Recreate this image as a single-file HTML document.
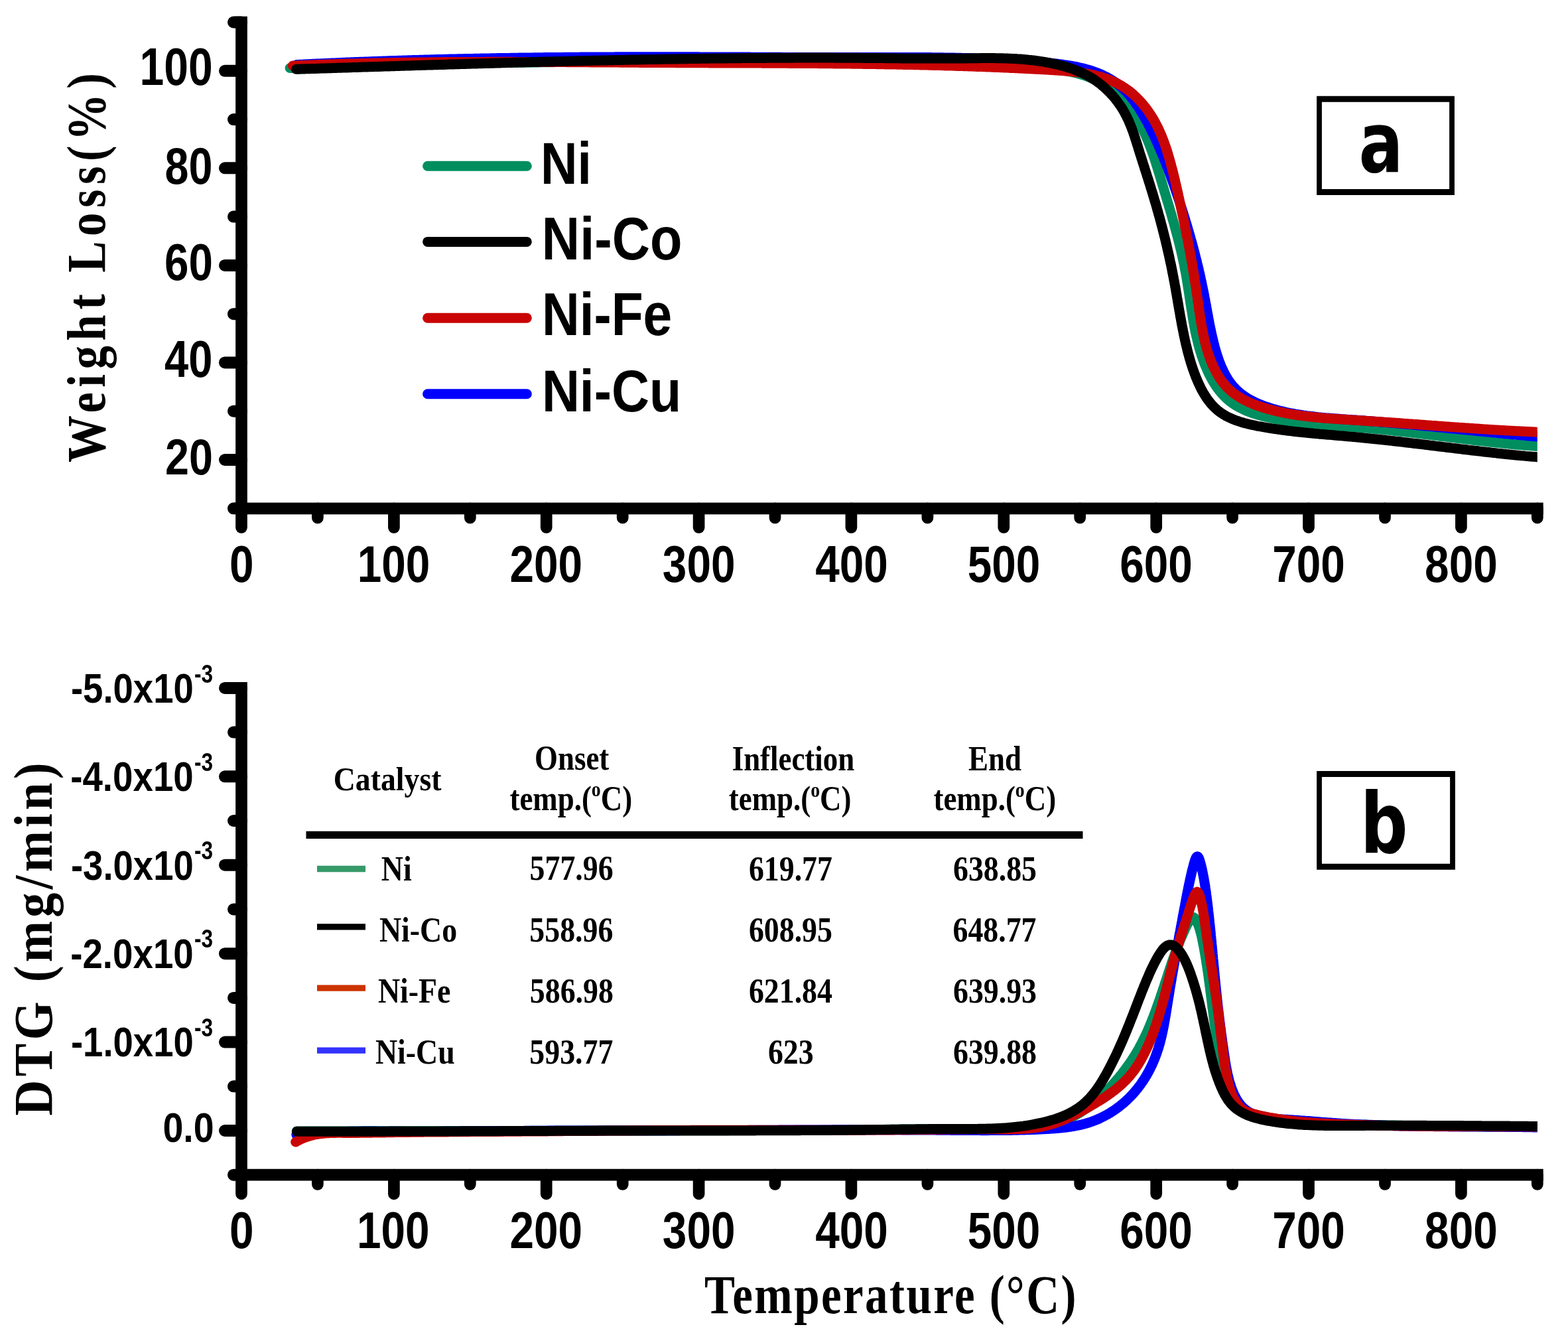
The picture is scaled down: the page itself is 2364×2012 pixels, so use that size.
<!DOCTYPE html>
<html><head><meta charset="utf-8"><title>TGA and DTG curves</title>
<style>html,body{margin:0;padding:0;background:#fff;overflow:hidden}svg{display:block}</style>
</head><body>
<svg xmlns="http://www.w3.org/2000/svg" width="2364" height="2012" viewBox="0 0 2364 2012">
<defs>
<clipPath id="ca"><rect x="300" y="0" width="2017.8" height="900"/></clipPath>
<clipPath id="cb"><rect x="300" y="1000" width="2017.8" height="900"/></clipPath>
</defs>
<rect width="2364" height="2012" fill="#fff"/>
<line x1="364.0" y1="33.5" x2="364.0" y2="766.3" stroke="#000" stroke-width="17.7" stroke-linecap="square"/>
<line x1="364.0" y1="766.3" x2="2317.8" y2="766.3" stroke="#000" stroke-width="17.8" stroke-linecap="square"/>
<line x1="364.0" y1="106.8" x2="339" y2="106.8" stroke="#000" stroke-width="18" stroke-linecap="round"/>
<line x1="364.0" y1="253.3" x2="339" y2="253.3" stroke="#000" stroke-width="18" stroke-linecap="round"/>
<line x1="364.0" y1="399.9" x2="339" y2="399.9" stroke="#000" stroke-width="18" stroke-linecap="round"/>
<line x1="364.0" y1="546.4" x2="339" y2="546.4" stroke="#000" stroke-width="18" stroke-linecap="round"/>
<line x1="364.0" y1="693.0" x2="339" y2="693.0" stroke="#000" stroke-width="18" stroke-linecap="round"/>
<line x1="364.0" y1="33.5" x2="352" y2="33.5" stroke="#000" stroke-width="18" stroke-linecap="round"/>
<line x1="364.0" y1="180.1" x2="352" y2="180.1" stroke="#000" stroke-width="18" stroke-linecap="round"/>
<line x1="364.0" y1="326.6" x2="352" y2="326.6" stroke="#000" stroke-width="18" stroke-linecap="round"/>
<line x1="364.0" y1="473.2" x2="352" y2="473.2" stroke="#000" stroke-width="18" stroke-linecap="round"/>
<line x1="364.0" y1="619.7" x2="352" y2="619.7" stroke="#000" stroke-width="18" stroke-linecap="round"/>
<line x1="364.0" y1="766.3" x2="352" y2="766.3" stroke="#000" stroke-width="18" stroke-linecap="round"/>
<line x1="364.0" y1="766.3" x2="364.0" y2="794.9" stroke="#000" stroke-width="17.7" stroke-linecap="round"/>
<line x1="593.9" y1="766.3" x2="593.9" y2="794.9" stroke="#000" stroke-width="17.7" stroke-linecap="round"/>
<line x1="823.7" y1="766.3" x2="823.7" y2="794.9" stroke="#000" stroke-width="17.7" stroke-linecap="round"/>
<line x1="1053.6" y1="766.3" x2="1053.6" y2="794.9" stroke="#000" stroke-width="17.7" stroke-linecap="round"/>
<line x1="1283.4" y1="766.3" x2="1283.4" y2="794.9" stroke="#000" stroke-width="17.7" stroke-linecap="round"/>
<line x1="1513.3" y1="766.3" x2="1513.3" y2="794.9" stroke="#000" stroke-width="17.7" stroke-linecap="round"/>
<line x1="1743.2" y1="766.3" x2="1743.2" y2="794.9" stroke="#000" stroke-width="17.7" stroke-linecap="round"/>
<line x1="1973.0" y1="766.3" x2="1973.0" y2="794.9" stroke="#000" stroke-width="17.7" stroke-linecap="round"/>
<line x1="2202.9" y1="766.3" x2="2202.9" y2="794.9" stroke="#000" stroke-width="17.7" stroke-linecap="round"/>
<line x1="478.9" y1="766.3" x2="478.9" y2="780.5" stroke="#000" stroke-width="17.7" stroke-linecap="round"/>
<line x1="708.8" y1="766.3" x2="708.8" y2="780.5" stroke="#000" stroke-width="17.7" stroke-linecap="round"/>
<line x1="938.7" y1="766.3" x2="938.7" y2="780.5" stroke="#000" stroke-width="17.7" stroke-linecap="round"/>
<line x1="1168.5" y1="766.3" x2="1168.5" y2="780.5" stroke="#000" stroke-width="17.7" stroke-linecap="round"/>
<line x1="1398.4" y1="766.3" x2="1398.4" y2="780.5" stroke="#000" stroke-width="17.7" stroke-linecap="round"/>
<line x1="1628.2" y1="766.3" x2="1628.2" y2="780.5" stroke="#000" stroke-width="17.7" stroke-linecap="round"/>
<line x1="1858.1" y1="766.3" x2="1858.1" y2="780.5" stroke="#000" stroke-width="17.7" stroke-linecap="round"/>
<line x1="2088.0" y1="766.3" x2="2088.0" y2="780.5" stroke="#000" stroke-width="17.7" stroke-linecap="round"/>
<line x1="2317.8" y1="766.3" x2="2317.8" y2="780.5" stroke="#000" stroke-width="17.7" stroke-linecap="round"/>
<line x1="364.0" y1="1036.9" x2="364.0" y2="1770.7" stroke="#000" stroke-width="17.7" stroke-linecap="square"/>
<line x1="364.0" y1="1770.7" x2="2317.8" y2="1770.7" stroke="#000" stroke-width="17.8" stroke-linecap="square"/>
<line x1="364.0" y1="1036.9" x2="339" y2="1036.9" stroke="#000" stroke-width="18" stroke-linecap="round"/>
<line x1="364.0" y1="1170.3" x2="339" y2="1170.3" stroke="#000" stroke-width="18" stroke-linecap="round"/>
<line x1="364.0" y1="1303.7" x2="339" y2="1303.7" stroke="#000" stroke-width="18" stroke-linecap="round"/>
<line x1="364.0" y1="1437.2" x2="339" y2="1437.2" stroke="#000" stroke-width="18" stroke-linecap="round"/>
<line x1="364.0" y1="1570.6" x2="339" y2="1570.6" stroke="#000" stroke-width="18" stroke-linecap="round"/>
<line x1="364.0" y1="1704.0" x2="339" y2="1704.0" stroke="#000" stroke-width="18" stroke-linecap="round"/>
<line x1="364.0" y1="1103.6" x2="352" y2="1103.6" stroke="#000" stroke-width="18" stroke-linecap="round"/>
<line x1="364.0" y1="1237.0" x2="352" y2="1237.0" stroke="#000" stroke-width="18" stroke-linecap="round"/>
<line x1="364.0" y1="1370.5" x2="352" y2="1370.5" stroke="#000" stroke-width="18" stroke-linecap="round"/>
<line x1="364.0" y1="1503.9" x2="352" y2="1503.9" stroke="#000" stroke-width="18" stroke-linecap="round"/>
<line x1="364.0" y1="1637.3" x2="352" y2="1637.3" stroke="#000" stroke-width="18" stroke-linecap="round"/>
<line x1="364.0" y1="1770.7" x2="352" y2="1770.7" stroke="#000" stroke-width="18" stroke-linecap="round"/>
<line x1="364.0" y1="1770.7" x2="364.0" y2="1799.3" stroke="#000" stroke-width="17.7" stroke-linecap="round"/>
<line x1="593.9" y1="1770.7" x2="593.9" y2="1799.3" stroke="#000" stroke-width="17.7" stroke-linecap="round"/>
<line x1="823.7" y1="1770.7" x2="823.7" y2="1799.3" stroke="#000" stroke-width="17.7" stroke-linecap="round"/>
<line x1="1053.6" y1="1770.7" x2="1053.6" y2="1799.3" stroke="#000" stroke-width="17.7" stroke-linecap="round"/>
<line x1="1283.4" y1="1770.7" x2="1283.4" y2="1799.3" stroke="#000" stroke-width="17.7" stroke-linecap="round"/>
<line x1="1513.3" y1="1770.7" x2="1513.3" y2="1799.3" stroke="#000" stroke-width="17.7" stroke-linecap="round"/>
<line x1="1743.2" y1="1770.7" x2="1743.2" y2="1799.3" stroke="#000" stroke-width="17.7" stroke-linecap="round"/>
<line x1="1973.0" y1="1770.7" x2="1973.0" y2="1799.3" stroke="#000" stroke-width="17.7" stroke-linecap="round"/>
<line x1="2202.9" y1="1770.7" x2="2202.9" y2="1799.3" stroke="#000" stroke-width="17.7" stroke-linecap="round"/>
<line x1="478.9" y1="1770.7" x2="478.9" y2="1784.9" stroke="#000" stroke-width="17.7" stroke-linecap="round"/>
<line x1="708.8" y1="1770.7" x2="708.8" y2="1784.9" stroke="#000" stroke-width="17.7" stroke-linecap="round"/>
<line x1="938.7" y1="1770.7" x2="938.7" y2="1784.9" stroke="#000" stroke-width="17.7" stroke-linecap="round"/>
<line x1="1168.5" y1="1770.7" x2="1168.5" y2="1784.9" stroke="#000" stroke-width="17.7" stroke-linecap="round"/>
<line x1="1398.4" y1="1770.7" x2="1398.4" y2="1784.9" stroke="#000" stroke-width="17.7" stroke-linecap="round"/>
<line x1="1628.2" y1="1770.7" x2="1628.2" y2="1784.9" stroke="#000" stroke-width="17.7" stroke-linecap="round"/>
<line x1="1858.1" y1="1770.7" x2="1858.1" y2="1784.9" stroke="#000" stroke-width="17.7" stroke-linecap="round"/>
<line x1="2088.0" y1="1770.7" x2="2088.0" y2="1784.9" stroke="#000" stroke-width="17.7" stroke-linecap="round"/>
<line x1="2317.8" y1="1770.7" x2="2317.8" y2="1784.9" stroke="#000" stroke-width="17.7" stroke-linecap="round"/>
<path d="M1985.1,144.8 H2192.9 V294.0 H1985.1 Z M1992.9,153.8 V285.0 H2185.1 V153.8 Z" fill="#000" fill-rule="evenodd"/>
<path d="M1985.1,1161.9 H2193.9 V1310.8 H1985.1 Z M1992.9,1170.9 V1301.8 H2186.1 V1170.9 Z" fill="#000" fill-rule="evenodd"/>
<line x1="644.6" y1="250.2" x2="794.3" y2="250.2" stroke="#008e5f" stroke-width="15" stroke-linecap="round"/>
<line x1="644.6" y1="364.4" x2="794.3" y2="364.4" stroke="#000000" stroke-width="15" stroke-linecap="round"/>
<line x1="644.6" y1="479.2" x2="794.3" y2="479.2" stroke="#c90404" stroke-width="15" stroke-linecap="round"/>
<line x1="644.6" y1="593.7" x2="794.3" y2="593.7" stroke="#0000ff" stroke-width="15" stroke-linecap="round"/>
<line x1="461.5" y1="1258.3" x2="1632.5" y2="1258.3" stroke="#000" stroke-width="11.3"/>
<line x1="478" y1="1309.5" x2="551" y2="1309.5" stroke="#359968" stroke-width="9.3"/>
<line x1="478" y1="1396.8" x2="551" y2="1396.8" stroke="#000000" stroke-width="9.3"/>
<line x1="478" y1="1489.2" x2="551" y2="1489.2" stroke="#cc3300" stroke-width="9.3"/>
<line x1="478" y1="1583.1" x2="551" y2="1583.1" stroke="#3333ff" stroke-width="9.3"/>
<text transform="translate(210.49,128.47) scale(0.8282,1)" font-family="'Liberation Sans', Arial, sans-serif" font-weight="bold" font-size="79.68">100</text>
<text transform="translate(248.54,276.50) scale(0.8363,1)" font-family="'Liberation Sans', Arial, sans-serif" font-weight="bold" font-size="77.36">80</text>
<text transform="translate(247.99,422.49) scale(0.8341,1)" font-family="'Liberation Sans', Arial, sans-serif" font-weight="bold" font-size="78.52">60</text>
<text transform="translate(248.00,567.99) scale(0.8378,1)" font-family="'Liberation Sans', Arial, sans-serif" font-weight="bold" font-size="77.70">40</text>
<text transform="translate(249.04,714.52) scale(0.8473,1)" font-family="'Liberation Sans', Arial, sans-serif" font-weight="bold" font-size="76.34">20</text>
<text transform="translate(346.00,877.02) scale(0.8408,1)" font-family="'Liberation Sans', Arial, sans-serif" font-weight="bold" font-size="78.14">0</text>
<text transform="translate(346.00,1880.82) scale(0.8408,1)" font-family="'Liberation Sans', Arial, sans-serif" font-weight="bold" font-size="78.14">0</text>
<text transform="translate(538.75,877.02) scale(0.8408,1)" font-family="'Liberation Sans', Arial, sans-serif" font-weight="bold" font-size="78.14">100</text>
<text transform="translate(537.95,1880.82) scale(0.8408,1)" font-family="'Liberation Sans', Arial, sans-serif" font-weight="bold" font-size="78.14">100</text>
<text transform="translate(768.40,877.02) scale(0.8408,1)" font-family="'Liberation Sans', Arial, sans-serif" font-weight="bold" font-size="78.14">200</text>
<text transform="translate(768.40,1880.82) scale(0.8408,1)" font-family="'Liberation Sans', Arial, sans-serif" font-weight="bold" font-size="78.14">200</text>
<text transform="translate(998.85,877.02) scale(0.8408,1)" font-family="'Liberation Sans', Arial, sans-serif" font-weight="bold" font-size="78.14">300</text>
<text transform="translate(998.85,1880.82) scale(0.8408,1)" font-family="'Liberation Sans', Arial, sans-serif" font-weight="bold" font-size="78.14">300</text>
<text transform="translate(1229.30,877.02) scale(0.8408,1)" font-family="'Liberation Sans', Arial, sans-serif" font-weight="bold" font-size="78.14">400</text>
<text transform="translate(1229.30,1880.82) scale(0.8408,1)" font-family="'Liberation Sans', Arial, sans-serif" font-weight="bold" font-size="78.14">400</text>
<text transform="translate(1458.75,877.02) scale(0.8408,1)" font-family="'Liberation Sans', Arial, sans-serif" font-weight="bold" font-size="78.14">500</text>
<text transform="translate(1458.75,1880.82) scale(0.8408,1)" font-family="'Liberation Sans', Arial, sans-serif" font-weight="bold" font-size="78.14">500</text>
<text transform="translate(1688.20,877.02) scale(0.8408,1)" font-family="'Liberation Sans', Arial, sans-serif" font-weight="bold" font-size="78.14">600</text>
<text transform="translate(1688.20,1880.82) scale(0.8408,1)" font-family="'Liberation Sans', Arial, sans-serif" font-weight="bold" font-size="78.14">600</text>
<text transform="translate(1918.15,877.02) scale(0.8408,1)" font-family="'Liberation Sans', Arial, sans-serif" font-weight="bold" font-size="78.14">700</text>
<text transform="translate(1918.15,1880.82) scale(0.8408,1)" font-family="'Liberation Sans', Arial, sans-serif" font-weight="bold" font-size="78.14">700</text>
<text transform="translate(2148.10,877.02) scale(0.8408,1)" font-family="'Liberation Sans', Arial, sans-serif" font-weight="bold" font-size="78.14">800</text>
<text transform="translate(2148.10,1880.82) scale(0.8408,1)" font-family="'Liberation Sans', Arial, sans-serif" font-weight="bold" font-size="78.14">800</text>
<text transform="translate(815.03,276.51) scale(0.8730,1)" font-family="'Liberation Sans', Arial, sans-serif" font-weight="bold" font-size="88.14">Ni</text>
<text transform="translate(816.87,390.98) scale(0.8659,1)" font-family="'Liberation Sans', Arial, sans-serif" font-weight="bold" font-size="91.64">Ni-Co</text>
<text transform="translate(816.92,505.02) scale(0.8689,1)" font-family="'Liberation Sans', Arial, sans-serif" font-weight="bold" font-size="90.43">Ni-Fe</text>
<text transform="translate(816.89,620.01) scale(0.8900,1)" font-family="'Liberation Sans', Arial, sans-serif" font-weight="bold" font-size="88.66">Ni-Cu</text>
<text transform="translate(2048.56,258.54) scale(0.7815,1)" font-family="'DejaVu Sans', 'Liberation Sans', sans-serif" font-weight="bold" font-size="126.91">a</text>
<text transform="translate(2050.95,1284.56) scale(0.7906,1)" font-family="'DejaVu Sans', 'Liberation Sans', sans-serif" font-weight="bold" font-size="126.41">b</text>
<text transform="translate(106.98,1059.00) scale(0.8660,1)" font-family="'Liberation Sans', Arial, sans-serif" font-weight="bold" font-size="62.92">-5.0x10</text>
<text transform="translate(292.96,1028.50) scale(0.8068,1)" font-family="'Liberation Sans', Arial, sans-serif" font-weight="bold" font-size="39.18">-3</text>
<text transform="translate(106.24,1192.27) scale(0.8694,1)" font-family="'Liberation Sans', Arial, sans-serif" font-weight="bold" font-size="62.92">-4.0x10</text>
<text transform="translate(292.96,1161.83) scale(0.8068,1)" font-family="'Liberation Sans', Arial, sans-serif" font-weight="bold" font-size="39.18">-3</text>
<text transform="translate(106.98,1325.58) scale(0.8660,1)" font-family="'Liberation Sans', Arial, sans-serif" font-weight="bold" font-size="62.92">-3.0x10</text>
<text transform="translate(292.96,1295.11) scale(0.8068,1)" font-family="'Liberation Sans', Arial, sans-serif" font-weight="bold" font-size="39.18">-3</text>
<text transform="translate(106.24,1458.89) scale(0.8694,1)" font-family="'Liberation Sans', Arial, sans-serif" font-weight="bold" font-size="62.92">-2.0x10</text>
<text transform="translate(292.96,1428.39) scale(0.8068,1)" font-family="'Liberation Sans', Arial, sans-serif" font-weight="bold" font-size="39.18">-3</text>
<text transform="translate(106.98,1592.21) scale(0.8660,1)" font-family="'Liberation Sans', Arial, sans-serif" font-weight="bold" font-size="62.92">-1.0x10</text>
<text transform="translate(292.96,1561.70) scale(0.8068,1)" font-family="'Liberation Sans', Arial, sans-serif" font-weight="bold" font-size="39.18">-3</text>
<text transform="translate(245.43,1721.47) scale(0.8755,1)" font-family="'Liberation Sans', Arial, sans-serif" font-weight="bold" font-size="63.46">0.0</text>
<text transform="translate(158.13,696.97) rotate(-90) scale(0.8525,1)" font-family="'Liberation Serif', 'Times New Roman', serif" font-weight="bold" font-size="83.18" letter-spacing="8.705">Weight Loss(%)</text>
<text transform="translate(78.13,1681.51) rotate(-90) scale(0.8976,1)" font-family="'Liberation Serif', 'Times New Roman', serif" font-weight="bold" font-size="83.18" letter-spacing="5.803">DTG (mg/min)</text>
<text transform="translate(1062.08,1979.16) scale(0.8308,1)" font-family="'Liberation Serif', 'Times New Roman', serif" font-weight="bold" font-size="83.11" letter-spacing="2.899">Temperature (°C)</text>
<text transform="translate(502.68,1190.97) scale(0.9061,1)" font-family="'Liberation Serif', 'Times New Roman', serif" font-weight="bold" font-size="50.54">Catalyst</text>
<text transform="translate(806.10,1160.25) scale(0.8669,1)" font-family="'Liberation Serif', 'Times New Roman', serif" font-weight="bold" font-size="51.78">Onset</text>
<text transform="translate(768.50,1220.60) scale(0.8669,1)" font-family="'Liberation Serif', 'Times New Roman', serif" font-weight="bold" font-size="51.78">temp.(<tspan font-size="32.1" dy="-20.2">o</tspan><tspan dy="20.2">C)</tspan></text>
<text transform="translate(1103.70,1161.00) scale(0.8669,1)" font-family="'Liberation Serif', 'Times New Roman', serif" font-weight="bold" font-size="51.78">Inflection</text>
<text transform="translate(1098.80,1220.80) scale(0.8669,1)" font-family="'Liberation Serif', 'Times New Roman', serif" font-weight="bold" font-size="51.78">temp.(<tspan font-size="32.1" dy="-20.2">o</tspan><tspan dy="20.2">C)</tspan></text>
<text transform="translate(1460.00,1161.00) scale(0.8669,1)" font-family="'Liberation Serif', 'Times New Roman', serif" font-weight="bold" font-size="51.78">End</text>
<text transform="translate(1407.50,1220.80) scale(0.8669,1)" font-family="'Liberation Serif', 'Times New Roman', serif" font-weight="bold" font-size="51.78">temp.(<tspan font-size="32.1" dy="-20.2">o</tspan><tspan dy="20.2">C)</tspan></text>
<text transform="translate(798.58,1326.39) scale(0.8718,1)" font-family="'Liberation Serif', 'Times New Roman', serif" font-weight="bold" font-size="52.58">577.96</text>
<text transform="translate(574.80,1326.60) scale(0.8718,1)" font-family="'Liberation Serif', 'Times New Roman', serif" font-weight="bold" font-size="52.58">Ni</text>
<text transform="translate(1128.90,1326.60) scale(0.8718,1)" font-family="'Liberation Serif', 'Times New Roman', serif" font-weight="bold" font-size="52.58">619.77</text>
<text transform="translate(1437.00,1326.60) scale(0.8718,1)" font-family="'Liberation Serif', 'Times New Roman', serif" font-weight="bold" font-size="52.58">638.85</text>
<text transform="translate(572.00,1418.60) scale(0.8718,1)" font-family="'Liberation Serif', 'Times New Roman', serif" font-weight="bold" font-size="52.58">Ni-Co</text>
<text transform="translate(798.30,1418.60) scale(0.8718,1)" font-family="'Liberation Serif', 'Times New Roman', serif" font-weight="bold" font-size="52.58">558.96</text>
<text transform="translate(1128.90,1418.60) scale(0.8718,1)" font-family="'Liberation Serif', 'Times New Roman', serif" font-weight="bold" font-size="52.58">608.95</text>
<text transform="translate(1436.50,1418.60) scale(0.8718,1)" font-family="'Liberation Serif', 'Times New Roman', serif" font-weight="bold" font-size="52.58">648.77</text>
<text transform="translate(570.00,1510.70) scale(0.8718,1)" font-family="'Liberation Serif', 'Times New Roman', serif" font-weight="bold" font-size="52.58">Ni-Fe</text>
<text transform="translate(798.80,1510.70) scale(0.8718,1)" font-family="'Liberation Serif', 'Times New Roman', serif" font-weight="bold" font-size="52.58">586.98</text>
<text transform="translate(1128.90,1510.70) scale(0.8718,1)" font-family="'Liberation Serif', 'Times New Roman', serif" font-weight="bold" font-size="52.58">621.84</text>
<text transform="translate(1437.00,1510.70) scale(0.8718,1)" font-family="'Liberation Serif', 'Times New Roman', serif" font-weight="bold" font-size="52.58">639.93</text>
<text transform="translate(566.00,1602.50) scale(0.8718,1)" font-family="'Liberation Serif', 'Times New Roman', serif" font-weight="bold" font-size="52.58">Ni-Cu</text>
<text transform="translate(798.30,1602.50) scale(0.8718,1)" font-family="'Liberation Serif', 'Times New Roman', serif" font-weight="bold" font-size="52.58">593.77</text>
<text transform="translate(1157.90,1602.50) scale(0.8718,1)" font-family="'Liberation Serif', 'Times New Roman', serif" font-weight="bold" font-size="52.58">623</text>
<text transform="translate(1437.00,1602.50) scale(0.8718,1)" font-family="'Liberation Serif', 'Times New Roman', serif" font-weight="bold" font-size="52.58">639.88</text>
<path d="M437.1,102.5L439.6,102.4L442.1,102.3L444.6,102.2L447.2,102.1L449.7,102.0L452.2,101.9L454.7,101.9L457.2,101.8L459.7,101.7L462.2,101.6L464.7,101.5L467.2,101.4L469.7,101.3L472.2,101.2L474.7,101.1L477.2,101.1L479.7,101.0L482.2,100.9L484.7,100.8L487.2,100.7L489.7,100.6L492.2,100.5L494.7,100.5L497.2,100.4L499.7,100.3L502.2,100.2L504.7,100.1L507.2,100.1L509.7,100.0L512.2,99.9L514.7,99.8L517.2,99.7L519.7,99.7L522.2,99.6L524.7,99.5L527.2,99.4L529.7,99.4L532.2,99.3L534.8,99.2L537.3,99.1L539.8,99.1L542.3,99.0L544.8,98.9L547.3,98.8L549.8,98.8L552.3,98.7L554.8,98.6L557.3,98.6L559.8,98.5L562.3,98.4L564.8,98.4L567.3,98.3L569.8,98.2L572.3,98.2L574.8,98.1L577.3,98.0L579.8,98.0L582.3,97.9L584.8,97.8L587.3,97.8L589.8,97.7L592.3,97.6L594.8,97.6L597.3,97.5L599.8,97.5L602.3,97.4L604.8,97.3L607.3,97.3L609.8,97.2L612.3,97.2L614.8,97.1L617.3,97.1L619.8,97.0L622.3,96.9L624.8,96.9L627.3,96.8L629.8,96.8L632.3,96.7L634.8,96.7L637.3,96.6L639.8,96.6L642.3,96.5L644.8,96.5L647.3,96.4L649.8,96.3L652.3,96.3L654.8,96.2L657.3,96.2L659.8,96.1L662.3,96.1L664.8,96.0L667.3,96.0L669.8,96.0L672.3,95.9L674.8,95.9L677.3,95.8L679.8,95.8L682.3,95.7L684.8,95.7L687.3,95.6L689.8,95.6L692.3,95.5L694.8,95.5L697.3,95.5L699.8,95.4L702.3,95.4L704.9,95.3L707.4,95.3L709.9,95.2L712.4,95.2L714.9,95.2L717.4,95.1L719.9,95.1L722.4,95.0L724.9,95.0L727.4,95.0L729.9,94.9L732.4,94.9L734.9,94.8L737.4,94.8L739.9,94.8L742.4,94.7L744.9,94.7L747.4,94.7L749.9,94.6L752.4,94.6L754.9,94.6L757.4,94.5L759.9,94.5L762.4,94.5L764.9,94.4L767.4,94.4L769.9,94.4L772.4,94.3L774.9,94.3L777.4,94.3L779.9,94.2L782.4,94.2L784.9,94.2L787.4,94.2L789.9,94.1L792.4,94.1L794.9,94.1L797.4,94.0L799.9,94.0L802.4,94.0L804.9,94.0L807.4,93.9L809.9,93.9L812.4,93.9L814.9,93.8L817.4,93.8L819.9,93.8L822.4,93.8L824.9,93.7L827.4,93.7L829.9,93.7L832.4,93.7L834.9,93.7L837.4,93.6L839.9,93.6L842.4,93.6L844.9,93.6L847.4,93.5L849.9,93.5L852.4,93.5L854.9,93.5L857.4,93.5L859.9,93.4L862.4,93.4L864.9,93.4L867.4,93.4L869.9,93.4L872.4,93.3L874.9,93.3L877.4,93.3L879.9,93.3L882.4,93.3L884.9,93.3L887.4,93.2L889.9,93.2L892.4,93.2L894.9,93.2L897.5,93.2L900.0,93.2L902.5,93.1L905.0,93.1L907.5,93.1L910.0,93.1L912.5,93.1L915.0,93.1L917.5,93.1L920.0,93.0L922.5,93.0L925.0,93.0L927.5,93.0L930.0,93.0L932.5,93.0L935.0,93.0L937.5,92.9L940.0,92.9L942.5,92.9L945.0,92.9L947.5,92.9L950.0,92.9L952.5,92.9L955.0,92.9L957.5,92.9L960.0,92.9L962.5,92.8L965.0,92.8L967.5,92.8L970.0,92.8L972.5,92.8L975.0,92.8L977.5,92.8L980.0,92.8L982.5,92.8L985.0,92.8L987.5,92.8L990.0,92.8L992.6,92.7L995.1,92.7L997.6,92.7L1000.1,92.7L1002.6,92.7L1005.1,92.7L1007.6,92.7L1010.1,92.7L1012.6,92.7L1015.1,92.7L1017.6,92.7L1020.1,92.7L1022.6,92.7L1025.1,92.7L1027.6,92.7L1030.1,92.7L1032.6,92.7L1035.1,92.7L1037.6,92.7L1040.1,92.6L1042.6,92.6L1045.1,92.6L1047.6,92.6L1050.1,92.6L1052.6,92.6L1055.1,92.6L1057.7,92.6L1060.2,92.6L1062.7,92.6L1065.2,92.6L1067.7,92.6L1070.2,92.6L1072.7,92.6L1075.2,92.6L1077.7,92.6L1080.2,92.6L1082.7,92.6L1085.2,92.6L1087.7,92.6L1090.2,92.6L1092.7,92.6L1095.2,92.6L1097.7,92.6L1100.2,92.6L1102.7,92.6L1105.2,92.6L1107.7,92.6L1110.3,92.6L1112.8,92.6L1115.3,92.6L1117.8,92.6L1120.3,92.6L1122.8,92.6L1125.3,92.6L1127.8,92.6L1130.3,92.6L1132.8,92.6L1135.3,92.6L1137.8,92.6L1140.3,92.6L1142.8,92.6L1145.3,92.6L1147.8,92.6L1150.3,92.6L1152.8,92.6L1155.3,92.6L1157.8,92.6L1160.3,92.6L1162.9,92.6L1165.4,92.6L1167.9,92.6L1170.4,92.6L1172.9,92.6L1175.4,92.6L1177.9,92.6L1180.4,92.6L1182.9,92.6L1185.4,92.6L1187.9,92.6L1190.4,92.6L1192.9,92.6L1195.4,92.6L1197.9,92.6L1200.4,92.6L1202.9,92.6L1205.4,92.6L1207.9,92.6L1210.4,92.6L1212.9,92.6L1215.4,92.6L1218.0,92.6L1220.5,92.6L1223.0,92.6L1225.5,92.6L1228.0,92.6L1230.5,92.6L1233.0,92.5L1235.5,92.5L1238.0,92.5L1240.5,92.5L1243.0,92.5L1245.5,92.5L1248.0,92.5L1250.5,92.5L1253.0,92.5L1255.5,92.5L1258.0,92.5L1260.5,92.5L1263.0,92.5L1265.5,92.5L1268.0,92.5L1270.5,92.5L1273.0,92.5L1275.5,92.5L1278.0,92.5L1280.5,92.5L1283.1,92.5L1285.6,92.5L1288.1,92.5L1290.6,92.5L1293.1,92.4L1295.6,92.4L1298.1,92.4L1300.6,92.4L1303.1,92.4L1305.6,92.4L1308.1,92.4L1310.6,92.4L1313.1,92.4L1315.6,92.4L1318.1,92.4L1320.6,92.4L1323.1,92.4L1325.6,92.4L1328.1,92.3L1330.6,92.3L1333.1,92.3L1335.6,92.3L1338.1,92.3L1340.6,92.3L1343.1,92.3L1345.6,92.3L1348.1,92.3L1350.6,92.3L1353.1,92.3L1355.6,92.3L1358.1,92.3L1360.6,92.3L1363.1,92.3L1365.6,92.3L1368.1,92.3L1370.6,92.3L1373.1,92.3L1375.6,92.4L1378.1,92.4L1380.6,92.4L1383.1,92.4L1385.6,92.4L1388.1,92.4L1390.6,92.4L1393.1,92.5L1395.6,92.5L1398.1,92.5L1400.6,92.5L1403.1,92.6L1405.6,92.6L1408.1,92.6L1410.6,92.7L1413.1,92.7L1415.6,92.7L1418.1,92.8L1420.6,92.8L1423.1,92.9L1425.6,92.9L1428.1,93.0L1430.6,93.0L1433.1,93.1L1435.6,93.1L1438.1,93.2L1440.6,93.3L1443.1,93.3L1445.6,93.4L1448.1,93.5L1450.6,93.5L1453.1,93.6L1455.6,93.7L1458.1,93.8L1460.6,93.9L1463.1,94.0L1465.6,94.1L1468.1,94.2L1470.6,94.3L1473.1,94.4L1475.6,94.5L1478.1,94.6L1480.5,94.7L1483.0,94.8L1485.5,94.9L1488.0,95.1L1490.5,95.2L1493.0,95.3L1495.5,95.5L1498.0,95.6L1500.5,95.8L1503.0,95.9L1505.5,96.1L1508.0,96.2L1510.5,96.4L1513.0,96.5L1515.5,96.7L1518.0,96.9L1520.5,97.1L1523.0,97.3L1525.4,97.4L1527.9,97.6L1530.4,97.8L1532.9,98.0L1535.4,98.2L1537.9,98.5L1540.4,98.7L1542.9,98.9L1545.4,99.1L1547.9,99.3L1550.4,99.6L1552.9,99.8L1555.4,100.1L1557.8,100.3L1560.3,100.6L1562.8,100.8L1565.3,101.1L1567.8,101.4L1570.3,101.7L1572.8,102.0L1575.3,102.2L1577.8,102.5L1580.3,102.8L1582.7,103.2L1585.2,103.5L1587.7,103.8L1590.2,104.1L1592.7,104.5L1595.2,104.8L1597.6,105.2L1600.1,105.6L1602.6,106.0L1605.0,106.4L1607.5,106.9L1609.9,107.3L1612.4,107.8L1614.8,108.3L1617.2,108.9L1619.7,109.4L1622.1,110.0L1624.4,110.6L1626.8,111.3L1629.2,112.0L1631.6,112.7L1633.9,113.4L1636.2,114.2L1638.6,115.1L1640.9,115.9L1643.1,116.8L1645.4,117.8L1647.7,118.8L1649.9,119.8L1652.1,120.9L1654.3,122.0L1656.5,123.2L1658.7,124.4L1660.8,125.6L1663.0,126.9L1665.1,128.2L1667.2,129.6L1669.2,131.0L1671.2,132.4L1673.3,133.9L1675.3,135.4L1677.2,136.9L1679.2,138.5L1681.1,140.1L1683.0,141.7L1684.8,143.3L1686.6,145.0L1688.4,146.8L1690.2,148.5L1692.0,150.3L1693.7,152.1L1695.4,153.9L1697.0,155.8L1698.6,157.6L1700.2,159.5L1701.8,161.4L1703.3,163.4L1704.8,165.3L1706.3,167.3L1707.7,169.3L1709.1,171.4L1710.5,173.4L1711.8,175.5L1713.1,177.5L1714.4,179.6L1715.7,181.8L1716.9,183.9L1718.1,186.0L1719.3,188.2L1720.5,190.4L1721.6,192.6L1722.7,194.8L1723.8,197.0L1724.9,199.3L1726.0,201.5L1727.0,203.8L1728.0,206.1L1729.0,208.4L1730.0,210.7L1730.9,213.0L1731.9,215.3L1732.8,217.6L1733.7,220.0L1734.6,222.3L1735.5,224.7L1736.3,227.0L1737.2,229.4L1738.0,231.8L1738.9,234.2L1739.7,236.6L1740.5,239.0L1741.3,241.4L1742.1,243.8L1742.9,246.2L1743.6,248.6L1744.4,251.0L1745.1,253.4L1745.9,255.8L1746.6,258.3L1747.4,260.7L1748.1,263.1L1748.8,265.5L1749.6,268.0L1750.3,270.4L1751.0,272.8L1751.7,275.2L1752.4,277.7L1753.2,280.1L1753.9,282.5L1754.6,284.9L1755.3,287.3L1756.0,289.7L1756.8,292.1L1757.5,294.5L1758.2,296.9L1758.9,299.3L1759.6,301.7L1760.3,304.1L1761.1,306.5L1761.8,308.9L1762.5,311.3L1763.2,313.7L1763.9,316.1L1764.6,318.4L1765.3,320.8L1766.0,323.2L1766.7,325.6L1767.3,328.0L1768.0,330.4L1768.7,332.8L1769.4,335.2L1770.1,337.5L1770.7,339.9L1771.4,342.3L1772.0,344.7L1772.7,347.1L1773.3,349.5L1774.0,351.9L1774.6,354.3L1775.3,356.7L1775.9,359.1L1776.5,361.5L1777.1,363.8L1777.7,366.2L1778.3,368.7L1778.9,371.1L1779.5,373.5L1780.1,375.9L1780.7,378.3L1781.2,380.7L1781.8,383.1L1782.3,385.5L1782.9,388.0L1783.4,390.4L1783.9,392.8L1784.4,395.3L1785.0,397.7L1785.5,400.1L1785.9,402.6L1786.4,405.0L1786.9,407.5L1787.4,409.9L1787.8,412.4L1788.3,414.9L1788.7,417.3L1789.1,419.8L1789.5,422.3L1789.9,424.8L1790.3,427.3L1790.7,429.8L1791.1,432.3L1791.5,434.7L1791.9,437.2L1792.3,439.7L1792.7,442.2L1793.0,444.7L1793.4,447.2L1793.8,449.8L1794.2,452.3L1794.5,454.8L1794.9,457.3L1795.3,459.8L1795.7,462.3L1796.1,464.8L1796.5,467.3L1796.9,469.8L1797.3,472.3L1797.7,474.8L1798.1,477.3L1798.5,479.8L1798.9,482.3L1799.4,484.8L1799.8,487.3L1800.3,489.8L1800.7,492.3L1801.2,494.8L1801.7,497.2L1802.2,499.7L1802.7,502.2L1803.3,504.7L1803.8,507.1L1804.4,509.6L1805.0,512.1L1805.6,514.5L1806.2,516.9L1806.8,519.4L1807.5,521.8L1808.1,524.2L1808.8,526.7L1809.5,529.1L1810.3,531.5L1811.0,533.9L1811.8,536.3L1812.6,538.7L1813.4,541.0L1814.3,543.4L1815.1,545.8L1816.0,548.1L1817.0,550.5L1817.9,552.8L1818.9,555.1L1819.9,557.4L1821.0,559.7L1822.0,562.0L1823.1,564.3L1824.3,566.5L1825.4,568.7L1826.6,570.9L1827.8,573.1L1829.1,575.2L1830.4,577.3L1831.7,579.4L1833.0,581.5L1834.4,583.5L1835.8,585.5L1837.3,587.4L1838.8,589.3L1840.3,591.2L1841.9,593.0L1843.5,594.8L1845.1,596.5L1846.8,598.2L1848.5,599.9L1850.2,601.5L1852.0,603.0L1853.8,604.5L1855.7,606.0L1857.6,607.4L1859.5,608.7L1861.5,610.0L1863.5,611.2L1865.6,612.4L1867.6,613.6L1869.7,614.7L1871.9,615.8L1874.0,616.8L1876.2,617.8L1878.4,618.8L1880.6,619.7L1882.9,620.6L1885.2,621.4L1887.5,622.3L1889.8,623.1L1892.1,623.8L1894.4,624.5L1896.8,625.3L1899.2,625.9L1901.6,626.6L1904.0,627.2L1906.4,627.8L1908.8,628.4L1911.2,629.0L1913.6,629.5L1916.1,630.1L1918.5,630.6L1920.9,631.1L1923.4,631.6L1925.8,632.0L1928.3,632.5L1930.8,632.9L1933.2,633.4L1935.7,633.8L1938.2,634.2L1940.7,634.6L1943.2,634.9L1945.6,635.3L1948.1,635.6L1950.6,636.0L1953.1,636.3L1955.6,636.6L1958.1,636.9L1960.6,637.2L1963.2,637.5L1965.7,637.8L1968.2,638.0L1970.7,638.3L1973.2,638.5L1975.8,638.8L1978.3,639.0L1980.8,639.3L1983.3,639.5L1985.9,639.7L1988.4,639.9L1990.9,640.1L1993.5,640.3L1996.0,640.5L1998.5,640.7L2001.1,640.9L2003.6,641.1L2006.1,641.2L2008.7,641.4L2011.2,641.6L2013.8,641.8L2016.3,641.9L2018.8,642.1L2021.4,642.3L2023.9,642.5L2026.4,642.6L2029.0,642.8L2031.5,643.0L2034.0,643.2L2036.6,643.3L2039.1,643.5L2041.6,643.7L2044.1,643.9L2046.7,644.1L2049.2,644.3L2051.7,644.5L2054.2,644.7L2056.7,644.9L2059.2,645.1L2061.7,645.3L2064.3,645.5L2066.8,645.7L2069.3,646.0L2071.8,646.2L2074.3,646.4L2076.8,646.7L2079.3,646.9L2081.7,647.1L2084.2,647.4L2086.7,647.6L2089.2,647.9L2091.7,648.1L2094.2,648.4L2096.7,648.6L2099.2,648.9L2101.6,649.2L2104.1,649.4L2106.6,649.7L2109.1,650.0L2111.6,650.2L2114.0,650.5L2116.5,650.8L2119.0,651.1L2121.5,651.3L2123.9,651.6L2126.4,651.9L2128.9,652.2L2131.4,652.5L2133.8,652.8L2136.3,653.1L2138.8,653.4L2141.2,653.6L2143.7,653.9L2146.2,654.2L2148.6,654.5L2151.1,654.8L2153.6,655.1L2156.0,655.4L2158.5,655.7L2161.0,656.0L2163.4,656.3L2165.9,656.6L2168.3,656.9L2170.8,657.2L2173.3,657.5L2175.7,657.8L2178.2,658.1L2180.7,658.4L2183.1,658.7L2185.6,659.0L2188.1,659.3L2190.5,659.6L2193.0,659.9L2195.5,660.2L2197.9,660.5L2200.4,660.8L2202.9,661.1L2205.3,661.4L2207.8,661.7L2210.3,662.0L2212.8,662.3L2215.2,662.6L2217.7,662.9L2220.2,663.2L2222.7,663.4L2225.1,663.7L2227.6,664.0L2230.1,664.3L2232.6,664.6L2235.1,664.9L2237.5,665.1L2240.0,665.4L2242.5,665.7L2245.0,666.0L2247.5,666.2L2250.0,666.5L2252.5,666.8L2255.0,667.0L2257.5,667.3L2259.9,667.5L2262.4,667.8L2264.9,668.1L2267.4,668.3L2269.9,668.5L2272.5,668.8L2275.0,669.0L2277.5,669.3L2280.0,669.5L2282.5,669.7L2285.0,670.0L2287.5,670.2L2290.1,670.4L2292.6,670.6L2295.1,670.8L2297.6,671.0L2300.2,671.3L2302.7,671.5L2305.2,671.6L2307.8,671.8L2310.3,672.0L2312.8,672.2L2315.4,672.4L2317.9,672.6L2320.5,672.7L2323.0,672.9L2325.6,673.1L2328.2,673.2L2330.7,673.4" fill="none" stroke="#008e5f" stroke-width="15" stroke-linecap="round" stroke-linejoin="round" clip-path="url(#ca)"/>
<path d="M447.4,97.6L449.9,97.4L452.4,97.3L454.9,97.2L457.4,97.1L459.9,96.9L462.4,96.8L464.9,96.7L467.4,96.6L469.9,96.5L472.4,96.3L474.9,96.2L477.4,96.1L480.0,96.0L482.5,95.9L485.0,95.8L487.5,95.7L490.0,95.5L492.5,95.4L495.0,95.3L497.5,95.2L500.0,95.1L502.5,95.0L505.0,94.9L507.5,94.8L510.0,94.7L512.5,94.6L515.0,94.5L517.6,94.3L520.1,94.2L522.6,94.1L525.1,94.0L527.6,93.9L530.1,93.8L532.6,93.7L535.1,93.6L537.6,93.5L540.1,93.4L542.6,93.3L545.1,93.3L547.6,93.2L550.1,93.1L552.6,93.0L555.1,92.9L557.6,92.8L560.2,92.7L562.7,92.6L565.2,92.5L567.7,92.4L570.2,92.3L572.7,92.2L575.2,92.2L577.7,92.1L580.2,92.0L582.7,91.9L585.2,91.8L587.7,91.7L590.2,91.6L592.7,91.6L595.2,91.5L597.7,91.4L600.2,91.3L602.7,91.2L605.2,91.2L607.7,91.1L610.2,91.0L612.7,90.9L615.2,90.8L617.7,90.8L620.3,90.7L622.8,90.6L625.3,90.5L627.8,90.5L630.3,90.4L632.8,90.3L635.3,90.3L637.8,90.2L640.3,90.1L642.8,90.0L645.3,90.0L647.8,89.9L650.3,89.8L652.8,89.8L655.3,89.7L657.8,89.6L660.3,89.6L662.8,89.5L665.3,89.4L667.8,89.4L670.3,89.3L672.8,89.3L675.3,89.2L677.8,89.1L680.3,89.1L682.8,89.0L685.3,89.0L687.8,88.9L690.3,88.8L692.8,88.8L695.3,88.7L697.8,88.7L700.3,88.6L702.8,88.6L705.3,88.5L707.8,88.5L710.3,88.4L712.9,88.4L715.4,88.3L717.9,88.3L720.4,88.2L722.9,88.2L725.4,88.1L727.9,88.1L730.4,88.0L732.9,88.0L735.4,87.9L737.9,87.9L740.4,87.8L742.9,87.8L745.4,87.7L747.9,87.7L750.4,87.6L752.9,87.6L755.4,87.6L757.9,87.5L760.4,87.5L762.9,87.4L765.4,87.4L767.9,87.4L770.4,87.3L772.9,87.3L775.4,87.2L777.9,87.2L780.4,87.2L782.9,87.1L785.4,87.1L787.9,87.1L790.4,87.0L792.9,87.0L795.4,87.0L797.9,86.9L800.4,86.9L802.9,86.9L805.4,86.8L807.9,86.8L810.4,86.8L812.9,86.7L815.4,86.7L817.9,86.7L820.4,86.6L822.9,86.6L825.4,86.6L827.9,86.6L830.4,86.5L832.9,86.5L835.4,86.5L837.9,86.5L840.4,86.4L842.9,86.4L845.4,86.4L847.9,86.4L850.4,86.3L852.9,86.3L855.4,86.3L857.9,86.3L860.4,86.3L862.9,86.2L865.4,86.2L867.9,86.2L870.4,86.2L872.9,86.2L875.4,86.1L877.9,86.1L880.4,86.1L882.9,86.1L885.4,86.1L887.9,86.0L890.4,86.0L892.9,86.0L895.4,86.0L897.9,86.0L900.4,86.0L902.9,86.0L905.4,85.9L907.9,85.9L910.4,85.9L912.9,85.9L915.4,85.9L917.9,85.9L920.4,85.9L922.9,85.9L925.4,85.9L927.9,85.8L930.4,85.8L932.9,85.8L935.4,85.8L937.9,85.8L940.4,85.8L942.9,85.8L945.4,85.8L947.9,85.8L950.4,85.8L952.9,85.8L955.4,85.8L957.9,85.8L960.4,85.8L962.9,85.8L965.4,85.8L967.9,85.8L970.4,85.8L972.9,85.7L975.4,85.7L977.9,85.7L980.4,85.7L982.9,85.7L985.4,85.7L987.9,85.7L990.4,85.7L992.9,85.7L995.4,85.7L997.9,85.7L1000.4,85.7L1002.9,85.7L1005.4,85.7L1007.9,85.8L1010.4,85.8L1012.9,85.8L1015.4,85.8L1017.9,85.8L1020.4,85.8L1022.9,85.8L1025.4,85.8L1027.9,85.8L1030.4,85.8L1032.9,85.8L1035.4,85.8L1037.9,85.8L1040.4,85.8L1042.9,85.8L1045.4,85.8L1047.9,85.8L1050.4,85.8L1052.9,85.8L1055.4,85.9L1057.9,85.9L1060.4,85.9L1062.9,85.9L1065.4,85.9L1067.9,85.9L1070.4,85.9L1072.9,85.9L1075.4,85.9L1077.9,85.9L1080.4,85.9L1082.9,86.0L1085.4,86.0L1087.9,86.0L1090.4,86.0L1092.9,86.0L1095.4,86.0L1097.9,86.0L1100.5,86.0L1103.0,86.0L1105.5,86.0L1108.0,86.1L1110.5,86.1L1113.0,86.1L1115.5,86.1L1118.0,86.1L1120.5,86.1L1123.0,86.1L1125.5,86.1L1128.0,86.1L1130.5,86.1L1133.0,86.2L1135.5,86.2L1138.0,86.2L1140.5,86.2L1143.0,86.2L1145.5,86.2L1148.0,86.2L1150.5,86.2L1153.0,86.2L1155.5,86.3L1158.0,86.3L1160.5,86.3L1163.0,86.3L1165.5,86.3L1168.0,86.3L1170.5,86.3L1173.0,86.3L1175.5,86.3L1178.0,86.3L1180.5,86.4L1183.0,86.4L1185.5,86.4L1188.0,86.4L1190.5,86.4L1193.0,86.4L1195.5,86.4L1198.0,86.4L1200.5,86.4L1203.0,86.4L1205.5,86.4L1208.0,86.4L1210.5,86.5L1213.0,86.5L1215.5,86.5L1218.0,86.5L1220.5,86.5L1223.1,86.5L1225.6,86.5L1228.1,86.5L1230.6,86.5L1233.1,86.5L1235.6,86.5L1238.1,86.5L1240.6,86.5L1243.1,86.5L1245.6,86.5L1248.1,86.5L1250.6,86.5L1253.1,86.5L1255.6,86.5L1258.1,86.6L1260.6,86.6L1263.1,86.6L1265.6,86.6L1268.1,86.6L1270.6,86.6L1273.1,86.6L1275.6,86.6L1278.1,86.6L1280.6,86.6L1283.1,86.6L1285.6,86.6L1288.2,86.6L1290.7,86.5L1293.2,86.5L1295.7,86.5L1298.2,86.5L1300.7,86.5L1303.2,86.5L1305.7,86.5L1308.2,86.5L1310.7,86.5L1313.2,86.5L1315.7,86.5L1318.2,86.5L1320.7,86.5L1323.2,86.5L1325.7,86.5L1328.2,86.5L1330.7,86.5L1333.2,86.5L1335.7,86.5L1338.3,86.5L1340.8,86.5L1343.3,86.5L1345.8,86.5L1348.3,86.5L1350.8,86.5L1353.3,86.5L1355.8,86.5L1358.3,86.5L1360.8,86.5L1363.3,86.5L1365.8,86.5L1368.3,86.5L1370.8,86.5L1373.3,86.5L1375.9,86.5L1378.4,86.5L1380.9,86.5L1383.4,86.5L1385.9,86.5L1388.4,86.5L1390.9,86.6L1393.4,86.6L1395.9,86.6L1398.4,86.6L1400.9,86.6L1403.4,86.6L1405.9,86.7L1408.4,86.7L1411.0,86.7L1413.5,86.7L1416.0,86.8L1418.5,86.8L1421.0,86.8L1423.5,86.9L1426.0,86.9L1428.5,87.0L1431.0,87.0L1433.5,87.0L1436.0,87.1L1438.6,87.1L1441.1,87.2L1443.6,87.2L1446.1,87.3L1448.6,87.3L1451.1,87.4L1453.6,87.5L1456.1,87.5L1458.6,87.6L1461.1,87.7L1463.6,87.7L1466.2,87.8L1468.7,87.9L1471.2,88.0L1473.7,88.1L1476.2,88.1L1478.7,88.2L1481.2,88.3L1483.7,88.4L1486.2,88.5L1488.8,88.6L1491.3,88.7L1493.8,88.8L1496.3,88.9L1498.8,89.0L1501.3,89.2L1503.8,89.3L1506.3,89.4L1508.8,89.5L1511.4,89.7L1513.9,89.8L1516.4,89.9L1518.9,90.1L1521.4,90.2L1523.9,90.4L1526.4,90.5L1528.9,90.7L1531.5,90.8L1534.0,91.0L1536.5,91.2L1539.0,91.3L1541.5,91.5L1544.0,91.7L1546.5,91.9L1549.0,92.0L1551.6,92.2L1554.1,92.4L1556.6,92.6L1559.1,92.8L1561.6,93.0L1564.1,93.3L1566.6,93.5L1569.2,93.7L1571.7,93.9L1574.2,94.2L1576.7,94.4L1579.2,94.6L1581.7,94.9L1584.2,95.1L1586.7,95.4L1589.2,95.7L1591.8,96.0L1594.3,96.3L1596.7,96.6L1599.2,96.9L1601.7,97.2L1604.2,97.6L1606.7,97.9L1609.1,98.3L1611.6,98.7L1614.1,99.1L1616.5,99.5L1618.9,100.0L1621.4,100.4L1623.8,100.9L1626.2,101.5L1628.6,102.0L1630.9,102.5L1633.3,103.1L1635.7,103.7L1638.0,104.4L1640.3,105.0L1642.7,105.7L1645.0,106.5L1647.2,107.2L1649.5,108.0L1651.8,108.8L1654.0,109.6L1656.2,110.5L1658.4,111.4L1660.6,112.4L1662.8,113.4L1664.9,114.4L1667.0,115.4L1669.1,116.5L1671.2,117.7L1673.3,118.8L1675.3,120.1L1677.3,121.3L1679.3,122.6L1681.3,124.0L1683.2,125.3L1685.1,126.8L1687.0,128.3L1688.9,129.8L1690.7,131.4L1692.5,133.0L1694.3,134.7L1696.1,136.4L1697.8,138.1L1699.5,140.0L1701.2,141.8L1702.9,143.7L1704.5,145.6L1706.1,147.6L1707.7,149.6L1709.2,151.7L1710.8,153.7L1712.3,155.9L1713.7,158.0L1715.2,160.1L1716.6,162.3L1718.1,164.5L1719.4,166.7L1720.8,169.0L1722.2,171.2L1723.5,173.5L1724.8,175.7L1726.1,178.0L1727.4,180.3L1728.6,182.6L1729.9,184.9L1731.1,187.2L1732.3,189.5L1733.5,191.8L1734.7,194.1L1735.8,196.4L1736.9,198.7L1738.1,201.0L1739.2,203.2L1740.3,205.5L1741.3,207.8L1742.4,210.1L1743.5,212.4L1744.5,214.7L1745.5,217.0L1746.5,219.2L1747.5,221.5L1748.5,223.8L1749.5,226.1L1750.5,228.4L1751.5,230.7L1752.4,233.0L1753.4,235.3L1754.3,237.6L1755.2,239.9L1756.1,242.2L1757.0,244.5L1757.9,246.8L1758.8,249.1L1759.7,251.4L1760.6,253.7L1761.5,256.1L1762.4,258.4L1763.2,260.7L1764.1,263.0L1765.0,265.4L1765.8,267.7L1766.6,270.0L1767.5,272.4L1768.3,274.7L1769.2,277.1L1770.0,279.4L1770.8,281.8L1771.6,284.1L1772.4,286.5L1773.2,288.8L1774.0,291.2L1774.8,293.5L1775.6,295.9L1776.4,298.3L1777.2,300.6L1778.0,303.0L1778.7,305.4L1779.5,307.8L1780.3,310.1L1781.0,312.5L1781.8,314.9L1782.6,317.3L1783.3,319.7L1784.1,322.0L1784.8,324.4L1785.5,326.8L1786.3,329.2L1787.0,331.6L1787.7,334.0L1788.5,336.4L1789.2,338.8L1789.9,341.2L1790.6,343.6L1791.3,346.0L1792.0,348.4L1792.7,350.8L1793.4,353.2L1794.1,355.6L1794.8,358.0L1795.4,360.4L1796.1,362.8L1796.8,365.2L1797.4,367.7L1798.1,370.1L1798.8,372.5L1799.4,374.9L1800.0,377.3L1800.7,379.7L1801.3,382.1L1801.9,384.6L1802.5,387.0L1803.1,389.4L1803.8,391.8L1804.4,394.2L1804.9,396.7L1805.5,399.1L1806.1,401.5L1806.7,403.9L1807.3,406.4L1807.8,408.8L1808.4,411.2L1808.9,413.6L1809.5,416.1L1810.0,418.5L1810.5,420.9L1811.1,423.4L1811.6,425.8L1812.1,428.2L1812.6,430.7L1813.1,433.1L1813.6,435.6L1814.1,438.0L1814.6,440.4L1815.1,442.9L1815.6,445.3L1816.0,447.8L1816.5,450.2L1817.0,452.7L1817.4,455.1L1817.9,457.6L1818.3,460.0L1818.8,462.5L1819.2,465.0L1819.7,467.4L1820.1,469.9L1820.6,472.4L1821.0,474.8L1821.5,477.3L1821.9,479.8L1822.4,482.2L1822.9,484.7L1823.3,487.2L1823.8,489.7L1824.3,492.2L1824.8,494.6L1825.3,497.1L1825.9,499.6L1826.4,502.1L1826.9,504.6L1827.5,507.1L1828.1,509.6L1828.7,512.1L1829.3,514.6L1829.9,517.1L1830.6,519.6L1831.2,522.1L1831.9,524.7L1832.6,527.2L1833.3,529.7L1834.1,532.2L1834.9,534.7L1835.7,537.1L1836.5,539.6L1837.3,542.0L1838.2,544.5L1839.1,546.9L1840.1,549.3L1841.0,551.7L1842.0,554.0L1843.1,556.3L1844.2,558.6L1845.3,560.9L1846.4,563.1L1847.6,565.3L1848.8,567.4L1850.0,569.5L1851.3,571.6L1852.6,573.6L1854.0,575.6L1855.4,577.5L1856.9,579.4L1858.4,581.2L1859.9,583.0L1861.5,584.7L1863.1,586.4L1864.8,588.0L1866.5,589.6L1868.2,591.1L1870.0,592.6L1871.8,594.0L1873.7,595.4L1875.6,596.7L1877.5,598.0L1879.5,599.3L1881.4,600.5L1883.5,601.7L1885.5,602.8L1887.6,603.9L1889.7,605.0L1891.8,606.0L1893.9,607.0L1896.1,608.0L1898.3,608.9L1900.5,609.8L1902.7,610.7L1904.9,611.5L1907.2,612.4L1909.5,613.1L1911.8,613.9L1914.1,614.7L1916.4,615.4L1918.7,616.1L1921.0,616.8L1923.4,617.4L1925.7,618.1L1928.1,618.7L1930.5,619.3L1932.9,619.9L1935.3,620.4L1937.7,621.0L1940.1,621.5L1942.5,622.0L1945.0,622.5L1947.4,623.0L1949.9,623.4L1952.3,623.9L1954.8,624.3L1957.3,624.7L1959.8,625.1L1962.3,625.5L1964.7,625.9L1967.3,626.2L1969.8,626.6L1972.3,626.9L1974.8,627.2L1977.3,627.5L1979.9,627.8L1982.4,628.1L1984.9,628.4L1987.5,628.7L1990.0,628.9L1992.6,629.2L1995.1,629.4L1997.7,629.7L2000.2,629.9L2002.8,630.1L2005.3,630.3L2007.9,630.5L2010.5,630.7L2013.0,630.9L2015.6,631.1L2018.2,631.3L2020.7,631.5L2023.3,631.7L2025.9,631.9L2028.4,632.1L2031.0,632.2L2033.5,632.4L2036.1,632.6L2038.7,632.8L2041.2,632.9L2043.8,633.1L2046.3,633.3L2048.9,633.5L2051.4,633.7L2053.9,633.8L2056.5,634.0L2059.0,634.2L2061.5,634.4L2064.1,634.6L2066.6,634.8L2069.1,635.0L2071.6,635.2L2074.1,635.4L2076.6,635.6L2079.2,635.8L2081.7,636.0L2084.2,636.2L2086.7,636.4L2089.2,636.6L2091.7,636.8L2094.2,637.0L2096.6,637.2L2099.1,637.4L2101.6,637.6L2104.1,637.9L2106.6,638.1L2109.1,638.3L2111.6,638.5L2114.0,638.7L2116.5,638.9L2119.0,639.2L2121.5,639.4L2123.9,639.6L2126.4,639.8L2128.9,640.1L2131.3,640.3L2133.8,640.5L2136.3,640.7L2138.7,641.0L2141.2,641.2L2143.7,641.4L2146.1,641.7L2148.6,641.9L2151.1,642.1L2153.5,642.4L2156.0,642.6L2158.4,642.8L2160.9,643.1L2163.3,643.3L2165.8,643.5L2168.3,643.8L2170.7,644.0L2173.2,644.3L2175.6,644.5L2178.1,644.7L2180.6,645.0L2183.0,645.2L2185.5,645.5L2187.9,645.7L2190.4,645.9L2192.9,646.2L2195.3,646.4L2197.8,646.7L2200.2,646.9L2202.7,647.2L2205.2,647.4L2207.6,647.6L2210.1,647.9L2212.6,648.1L2215.0,648.4L2217.5,648.6L2220.0,648.9L2222.4,649.1L2224.9,649.4L2227.4,649.6L2229.9,649.8L2232.3,650.1L2234.8,650.3L2237.3,650.6L2239.8,650.8L2242.3,651.1L2244.8,651.3L2247.3,651.5L2249.7,651.8L2252.2,652.0L2254.7,652.3L2257.2,652.5L2259.7,652.8L2262.2,653.0L2264.7,653.2L2267.3,653.5L2269.8,653.7L2272.3,654.0L2274.8,654.2L2277.3,654.4L2279.8,654.7L2282.4,654.9L2284.9,655.1L2287.4,655.4L2290.0,655.6L2292.5,655.8L2295.0,656.1L2297.6,656.3L2300.1,656.5L2302.7,656.8L2305.2,657.0L2307.8,657.2L2310.4,657.4L2312.9,657.7L2315.5,657.9L2318.1,658.1L2320.6,658.3L2323.2,658.6L2325.8,658.8L2328.4,659.0L2331.0,659.2" fill="none" stroke="#0000ff" stroke-width="15" stroke-linecap="round" stroke-linejoin="round" clip-path="url(#ca)"/>
<path d="M441.3,99.1L443.8,99.0L446.3,98.9L448.9,98.8L451.4,98.7L453.9,98.6L456.4,98.5L458.9,98.4L461.4,98.3L463.9,98.2L466.5,98.1L469.0,98.0L471.5,97.9L474.0,97.8L476.5,97.7L479.0,97.6L481.5,97.5L484.1,97.4L486.6,97.3L489.1,97.3L491.6,97.2L494.1,97.1L496.6,97.0L499.1,96.9L501.7,96.8L504.2,96.8L506.7,96.7L509.2,96.6L511.7,96.5L514.2,96.4L516.7,96.4L519.2,96.3L521.7,96.2L524.3,96.1L526.8,96.1L529.3,96.0L531.8,95.9L534.3,95.9L536.8,95.8L539.3,95.7L541.8,95.7L544.3,95.6L546.9,95.5L549.4,95.5L551.9,95.4L554.4,95.4L556.9,95.3L559.4,95.2L561.9,95.2L564.4,95.1L566.9,95.1L569.4,95.0L571.9,95.0L574.5,94.9L577.0,94.9L579.5,94.8L582.0,94.8L584.5,94.7L587.0,94.7L589.5,94.6L592.0,94.6L594.5,94.6L597.0,94.5L599.5,94.5L602.0,94.4L604.5,94.4L607.1,94.3L609.6,94.3L612.1,94.3L614.6,94.2L617.1,94.2L619.6,94.2L622.1,94.1L624.6,94.1L627.1,94.1L629.6,94.0L632.1,94.0L634.6,94.0L637.1,93.9L639.6,93.9L642.1,93.9L644.6,93.9L647.2,93.8L649.7,93.8L652.2,93.8L654.7,93.8L657.2,93.7L659.7,93.7L662.2,93.7L664.7,93.7L667.2,93.6L669.7,93.6L672.2,93.6L674.7,93.6L677.2,93.6L679.7,93.6L682.2,93.5L684.7,93.5L687.2,93.5L689.7,93.5L692.2,93.5L694.7,93.5L697.2,93.5L699.7,93.4L702.2,93.4L704.7,93.4L707.2,93.4L709.7,93.4L712.3,93.4L714.8,93.4L717.3,93.4L719.8,93.4L722.3,93.4L724.8,93.4L727.3,93.4L729.8,93.4L732.3,93.3L734.8,93.3L737.3,93.3L739.8,93.3L742.3,93.3L744.8,93.3L747.3,93.3L749.8,93.3L752.3,93.3L754.8,93.3L757.3,93.3L759.8,93.3L762.3,93.3L764.8,93.3L767.3,93.3L769.8,93.3L772.3,93.3L774.8,93.4L777.3,93.4L779.8,93.4L782.3,93.4L784.8,93.4L787.3,93.4L789.8,93.4L792.3,93.4L794.8,93.4L797.3,93.4L799.8,93.4L802.3,93.4L804.8,93.4L807.3,93.4L809.8,93.4L812.3,93.5L814.8,93.5L817.3,93.5L819.8,93.5L822.3,93.5L824.8,93.5L827.3,93.5L829.8,93.5L832.3,93.5L834.8,93.6L837.3,93.6L839.8,93.6L842.3,93.6L844.8,93.6L847.3,93.6L849.8,93.6L852.3,93.6L854.8,93.7L857.3,93.7L859.8,93.7L862.3,93.7L864.8,93.7L867.3,93.7L869.8,93.7L872.3,93.8L874.8,93.8L877.3,93.8L879.8,93.8L882.3,93.8L884.8,93.8L887.3,93.8L889.8,93.9L892.3,93.9L894.8,93.9L897.3,93.9L899.8,93.9L902.3,93.9L904.8,94.0L907.3,94.0L909.8,94.0L912.3,94.0L914.8,94.0L917.3,94.0L919.8,94.1L922.3,94.1L924.8,94.1L927.3,94.1L929.8,94.1L932.3,94.1L934.8,94.2L937.2,94.2L939.7,94.2L942.2,94.2L944.7,94.2L947.2,94.2L949.7,94.3L952.2,94.3L954.7,94.3L957.2,94.3L959.7,94.3L962.2,94.3L964.7,94.4L967.2,94.4L969.7,94.4L972.2,94.4L974.7,94.4L977.2,94.4L979.7,94.4L982.2,94.5L984.7,94.5L987.2,94.5L989.7,94.5L992.2,94.5L994.7,94.5L997.2,94.5L999.7,94.6L1002.2,94.6L1004.7,94.6L1007.2,94.6L1009.7,94.6L1012.2,94.6L1014.7,94.6L1017.2,94.6L1019.7,94.7L1022.2,94.7L1024.7,94.7L1027.2,94.7L1029.7,94.7L1032.2,94.7L1034.7,94.7L1037.2,94.7L1039.7,94.7L1042.2,94.8L1044.7,94.8L1047.2,94.8L1049.7,94.8L1052.2,94.8L1054.7,94.8L1057.2,94.8L1059.7,94.8L1062.2,94.8L1064.7,94.8L1067.2,94.8L1069.7,94.9L1072.2,94.9L1074.7,94.9L1077.2,94.9L1079.7,94.9L1082.2,94.9L1084.7,94.9L1087.2,94.9L1089.7,94.9L1092.2,94.9L1094.7,94.9L1097.2,95.0L1099.7,95.0L1102.2,95.0L1104.7,95.0L1107.2,95.0L1109.7,95.0L1112.2,95.0L1114.7,95.0L1117.2,95.0L1119.7,95.0L1122.2,95.0L1124.7,95.1L1127.2,95.1L1129.7,95.1L1132.2,95.1L1134.7,95.1L1137.2,95.1L1139.7,95.1L1142.2,95.1L1144.7,95.1L1147.2,95.1L1149.7,95.2L1152.2,95.2L1154.7,95.2L1157.2,95.2L1159.7,95.2L1162.2,95.2L1164.7,95.2L1167.2,95.2L1169.7,95.2L1172.2,95.3L1174.7,95.3L1177.2,95.3L1179.7,95.3L1182.2,95.3L1184.7,95.3L1187.2,95.3L1189.7,95.4L1192.2,95.4L1194.7,95.4L1197.2,95.4L1199.7,95.4L1202.2,95.4L1204.7,95.4L1207.2,95.5L1209.7,95.5L1212.2,95.5L1214.7,95.5L1217.2,95.5L1219.7,95.5L1222.2,95.6L1224.7,95.6L1227.2,95.6L1229.7,95.6L1232.2,95.6L1234.7,95.7L1237.2,95.7L1239.7,95.7L1242.2,95.7L1244.7,95.7L1247.2,95.8L1249.7,95.8L1252.3,95.8L1254.8,95.8L1257.3,95.9L1259.8,95.9L1262.3,95.9L1264.8,95.9L1267.3,96.0L1269.8,96.0L1272.3,96.0L1274.8,96.0L1277.3,96.1L1279.8,96.1L1282.3,96.1L1284.8,96.2L1287.3,96.2L1289.8,96.2L1292.3,96.2L1294.8,96.3L1297.3,96.3L1299.8,96.3L1302.3,96.4L1304.9,96.4L1307.4,96.4L1309.9,96.5L1312.4,96.5L1314.9,96.6L1317.4,96.6L1319.9,96.6L1322.4,96.7L1324.9,96.7L1327.4,96.7L1329.9,96.8L1332.4,96.8L1334.9,96.9L1337.4,96.9L1339.9,96.9L1342.5,97.0L1345.0,97.0L1347.5,97.1L1350.0,97.1L1352.5,97.2L1355.0,97.2L1357.5,97.3L1360.0,97.3L1362.5,97.4L1365.0,97.4L1367.5,97.5L1370.0,97.5L1372.6,97.6L1375.1,97.6L1377.6,97.7L1380.1,97.7L1382.6,97.8L1385.1,97.8L1387.6,97.9L1390.1,98.0L1392.6,98.0L1395.1,98.1L1397.7,98.1L1400.2,98.2L1402.7,98.3L1405.2,98.3L1407.7,98.4L1410.2,98.4L1412.7,98.5L1415.2,98.6L1417.7,98.6L1420.3,98.7L1422.8,98.8L1425.3,98.9L1427.8,98.9L1430.3,99.0L1432.8,99.1L1435.3,99.1L1437.8,99.2L1440.4,99.3L1442.9,99.4L1445.4,99.4L1447.9,99.5L1450.4,99.6L1452.9,99.7L1455.4,99.8L1458.0,99.8L1460.5,99.9L1463.0,100.0L1465.5,100.1L1468.0,100.2L1470.5,100.3L1473.0,100.4L1475.6,100.5L1478.1,100.5L1480.6,100.6L1483.1,100.7L1485.6,100.8L1488.1,100.9L1490.7,101.0L1493.2,101.1L1495.7,101.2L1498.2,101.3L1500.7,101.4L1503.2,101.5L1505.8,101.6L1508.3,101.7L1510.8,101.8L1513.3,101.9L1515.8,102.0L1518.3,102.1L1520.9,102.3L1523.4,102.4L1525.9,102.5L1528.4,102.6L1530.9,102.7L1533.5,102.8L1536.0,102.9L1538.5,103.1L1541.0,103.2L1543.5,103.3L1546.1,103.4L1548.6,103.5L1551.1,103.7L1553.6,103.8L1556.1,103.9L1558.7,104.0L1561.2,104.2L1563.7,104.3L1566.2,104.4L1568.7,104.6L1571.3,104.7L1573.8,104.8L1576.3,105.0L1578.8,105.1L1581.4,105.3L1583.9,105.4L1586.4,105.5L1588.9,105.7L1591.4,105.9L1594.0,106.0L1596.5,106.2L1599.0,106.4L1601.5,106.6L1604.0,106.7L1606.5,107.0L1609.0,107.2L1611.5,107.4L1614.0,107.6L1616.4,107.9L1618.9,108.2L1621.4,108.5L1623.8,108.8L1626.3,109.1L1628.7,109.4L1631.1,109.8L1633.6,110.2L1636.0,110.6L1638.4,111.0L1640.8,111.5L1643.2,111.9L1645.5,112.4L1647.9,112.9L1650.2,113.5L1652.6,114.1L1654.9,114.7L1657.2,115.3L1659.5,116.0L1661.8,116.6L1664.0,117.4L1666.3,118.1L1668.5,118.9L1670.7,119.7L1672.9,120.6L1675.1,121.5L1677.3,122.4L1679.4,123.4L1681.6,124.4L1683.7,125.4L1685.8,126.5L1687.9,127.6L1689.9,128.8L1691.9,130.0L1694.0,131.3L1696.0,132.6L1697.9,133.9L1699.9,135.3L1701.8,136.7L1703.7,138.2L1705.6,139.7L1707.5,141.3L1709.3,142.9L1711.1,144.6L1712.9,146.3L1714.6,148.0L1716.4,149.8L1718.1,151.6L1719.8,153.4L1721.4,155.3L1723.1,157.2L1724.7,159.1L1726.3,161.1L1727.8,163.1L1729.3,165.1L1730.8,167.2L1732.3,169.3L1733.7,171.4L1735.1,173.5L1736.5,175.7L1737.9,177.9L1739.2,180.1L1740.5,182.4L1741.7,184.6L1742.9,186.9L1744.1,189.2L1745.3,191.5L1746.4,193.8L1747.5,196.2L1748.6,198.6L1749.6,201.0L1750.7,203.3L1751.7,205.8L1752.6,208.2L1753.6,210.6L1754.5,213.1L1755.4,215.5L1756.3,218.0L1757.1,220.4L1758.0,222.9L1758.8,225.4L1759.6,227.9L1760.3,230.3L1761.1,232.8L1761.8,235.3L1762.6,237.8L1763.3,240.3L1764.0,242.8L1764.7,245.3L1765.4,247.7L1766.0,250.2L1766.7,252.7L1767.3,255.1L1768.0,257.6L1768.6,260.1L1769.2,262.5L1769.8,265.0L1770.4,267.4L1771.0,269.8L1771.6,272.3L1772.1,274.7L1772.7,277.1L1773.3,279.5L1773.8,282.0L1774.4,284.4L1774.9,286.8L1775.5,289.2L1776.0,291.6L1776.5,294.0L1777.0,296.4L1777.6,298.8L1778.1,301.2L1778.6,303.6L1779.1,306.0L1779.6,308.4L1780.1,310.8L1780.6,313.2L1781.1,315.6L1781.6,318.0L1782.1,320.4L1782.6,322.8L1783.2,325.1L1783.7,327.5L1784.2,329.9L1784.7,332.3L1785.2,334.7L1785.7,337.1L1786.2,339.5L1786.6,341.9L1787.1,344.3L1787.6,346.7L1788.1,349.1L1788.6,351.5L1789.1,353.9L1789.6,356.3L1790.1,358.7L1790.6,361.2L1791.0,363.6L1791.5,366.0L1792.0,368.4L1792.4,370.8L1792.9,373.3L1793.4,375.7L1793.8,378.2L1794.3,380.6L1794.7,383.0L1795.2,385.5L1795.6,388.0L1796.1,390.4L1796.5,392.9L1796.9,395.4L1797.4,397.8L1797.8,400.3L1798.2,402.8L1798.6,405.3L1799.0,407.8L1799.4,410.3L1799.8,412.8L1800.2,415.2L1800.6,417.8L1801.0,420.3L1801.4,422.8L1801.8,425.3L1802.2,427.8L1802.6,430.3L1803.0,432.8L1803.4,435.3L1803.7,437.8L1804.1,440.3L1804.5,442.9L1804.9,445.4L1805.2,447.9L1805.6,450.4L1805.9,452.9L1806.3,455.5L1806.7,458.0L1807.0,460.5L1807.4,463.0L1807.7,465.5L1808.1,468.0L1808.5,470.6L1808.8,473.1L1809.2,475.6L1809.6,478.1L1810.0,480.6L1810.4,483.1L1810.8,485.6L1811.2,488.1L1811.6,490.6L1812.1,493.1L1812.5,495.6L1813.0,498.1L1813.5,500.6L1814.0,503.1L1814.5,505.5L1815.0,508.0L1815.6,510.5L1816.2,513.0L1816.8,515.4L1817.4,517.9L1818.0,520.3L1818.7,522.8L1819.4,525.2L1820.1,527.7L1820.8,530.1L1821.6,532.5L1822.4,534.9L1823.2,537.3L1824.1,539.7L1825.0,542.1L1825.9,544.4L1826.8,546.7L1827.8,549.0L1828.8,551.3L1829.9,553.6L1830.9,555.8L1832.0,558.0L1833.2,560.2L1834.4,562.4L1835.6,564.5L1836.8,566.6L1838.1,568.6L1839.4,570.6L1840.8,572.6L1842.2,574.6L1843.7,576.5L1845.1,578.3L1846.7,580.1L1848.2,581.9L1849.8,583.6L1851.5,585.3L1853.2,586.9L1854.9,588.5L1856.7,590.0L1858.5,591.5L1860.4,593.0L1862.3,594.4L1864.2,595.7L1866.2,597.0L1868.2,598.3L1870.2,599.5L1872.2,600.7L1874.3,601.9L1876.4,603.0L1878.6,604.1L1880.7,605.1L1882.9,606.2L1885.1,607.1L1887.4,608.1L1889.6,609.0L1891.9,609.9L1894.2,610.8L1896.5,611.6L1898.8,612.4L1901.2,613.2L1903.5,613.9L1905.9,614.7L1908.2,615.4L1910.6,616.1L1913.0,616.8L1915.4,617.4L1917.8,618.0L1920.2,618.7L1922.6,619.2L1925.0,619.8L1927.4,620.4L1929.9,620.9L1932.3,621.4L1934.8,621.9L1937.2,622.4L1939.7,622.9L1942.1,623.3L1944.6,623.8L1947.1,624.2L1949.6,624.6L1952.1,625.0L1954.6,625.4L1957.0,625.8L1959.5,626.1L1962.1,626.5L1964.6,626.8L1967.1,627.1L1969.6,627.4L1972.1,627.7L1974.6,628.0L1977.2,628.3L1979.7,628.5L1982.2,628.8L1984.7,629.0L1987.3,629.3L1989.8,629.5L1992.4,629.7L1994.9,630.0L1997.4,630.2L2000.0,630.4L2002.5,630.6L2005.1,630.8L2007.6,630.9L2010.2,631.1L2012.7,631.3L2015.2,631.5L2017.8,631.6L2020.3,631.8L2022.9,632.0L2025.4,632.1L2028.0,632.3L2030.5,632.5L2033.0,632.6L2035.6,632.8L2038.1,632.9L2040.7,633.1L2043.2,633.2L2045.7,633.4L2048.3,633.6L2050.8,633.7L2053.3,633.9L2055.8,634.0L2058.3,634.2L2060.9,634.4L2063.4,634.5L2065.9,634.7L2068.4,634.9L2070.9,635.0L2073.4,635.2L2075.9,635.4L2078.4,635.5L2080.9,635.7L2083.4,635.9L2085.9,636.1L2088.4,636.2L2090.9,636.4L2093.4,636.6L2095.9,636.8L2098.4,636.9L2100.9,637.1L2103.4,637.3L2105.8,637.5L2108.3,637.6L2110.8,637.8L2113.3,638.0L2115.8,638.2L2118.3,638.4L2120.7,638.5L2123.2,638.7L2125.7,638.9L2128.2,639.1L2130.7,639.3L2133.1,639.4L2135.6,639.6L2138.1,639.8L2140.6,640.0L2143.0,640.2L2145.5,640.3L2148.0,640.5L2150.4,640.7L2152.9,640.9L2155.4,641.1L2157.9,641.3L2160.3,641.4L2162.8,641.6L2165.3,641.8L2167.7,642.0L2170.2,642.2L2172.7,642.3L2175.2,642.5L2177.6,642.7L2180.1,642.9L2182.6,643.0L2185.0,643.2L2187.5,643.4L2190.0,643.6L2192.5,643.7L2194.9,643.9L2197.4,644.1L2199.9,644.3L2202.4,644.4L2204.9,644.6L2207.3,644.8L2209.8,645.0L2212.3,645.1L2214.8,645.3L2217.3,645.5L2219.7,645.6L2222.2,645.8L2224.7,646.0L2227.2,646.1L2229.7,646.3L2232.2,646.5L2234.7,646.6L2237.1,646.8L2239.6,646.9L2242.1,647.1L2244.6,647.2L2247.1,647.4L2249.6,647.6L2252.1,647.7L2254.6,647.9L2257.1,648.0L2259.6,648.2L2262.2,648.3L2264.7,648.5L2267.2,648.6L2269.7,648.7L2272.2,648.9L2274.7,649.0L2277.2,649.2L2279.8,649.3L2282.3,649.4L2284.8,649.6L2287.4,649.7L2289.9,649.8L2292.4,650.0L2295.0,650.1L2297.5,650.2L2300.0,650.3L2302.6,650.5L2305.1,650.6L2307.7,650.7L2310.2,650.8L2312.8,650.9L2315.4,651.1L2317.9,651.2L2320.5,651.3L2323.1,651.4L2325.6,651.5L2328.2,651.6L2330.8,651.7" fill="none" stroke="#c90404" stroke-width="15" stroke-linecap="round" stroke-linejoin="round" clip-path="url(#ca)"/>
<path d="M446.3,104.3L448.8,104.2L451.3,104.2L453.8,104.1L456.3,104.0L458.8,103.9L461.4,103.8L463.9,103.8L466.4,103.7L468.9,103.6L471.4,103.5L473.9,103.5L476.5,103.4L479.0,103.3L481.5,103.2L484.0,103.1L486.5,103.1L489.0,103.0L491.5,102.9L494.1,102.8L496.6,102.7L499.1,102.7L501.6,102.6L504.1,102.5L506.6,102.4L509.1,102.3L511.6,102.3L514.1,102.2L516.6,102.1L519.2,102.0L521.7,101.9L524.2,101.9L526.7,101.8L529.2,101.7L531.7,101.6L534.2,101.5L536.7,101.5L539.2,101.4L541.7,101.3L544.2,101.2L546.7,101.1L549.2,101.1L551.8,101.0L554.3,100.9L556.8,100.8L559.3,100.7L561.8,100.7L564.3,100.6L566.8,100.5L569.3,100.4L571.8,100.4L574.3,100.3L576.8,100.2L579.3,100.1L581.8,100.0L584.3,100.0L586.8,99.9L589.3,99.8L591.8,99.7L594.3,99.7L596.8,99.6L599.3,99.5L601.8,99.4L604.3,99.3L606.8,99.3L609.3,99.2L611.8,99.1L614.3,99.0L616.8,99.0L619.3,98.9L621.8,98.8L624.3,98.7L626.8,98.6L629.3,98.6L631.8,98.5L634.3,98.4L636.8,98.3L639.3,98.3L641.8,98.2L644.3,98.1L646.8,98.0L649.3,98.0L651.8,97.9L654.3,97.8L656.8,97.7L659.3,97.7L661.8,97.6L664.3,97.5L666.8,97.4L669.3,97.4L671.8,97.3L674.3,97.2L676.8,97.1L679.3,97.1L681.8,97.0L684.3,96.9L686.8,96.8L689.3,96.8L691.7,96.7L694.2,96.6L696.7,96.5L699.2,96.5L701.7,96.4L704.2,96.3L706.7,96.2L709.2,96.2L711.7,96.1L714.2,96.0L716.7,96.0L719.2,95.9L721.7,95.8L724.2,95.7L726.7,95.7L729.2,95.6L731.7,95.5L734.2,95.4L736.7,95.4L739.1,95.3L741.6,95.2L744.1,95.2L746.6,95.1L749.1,95.0L751.6,95.0L754.1,94.9L756.6,94.8L759.1,94.7L761.6,94.7L764.1,94.6L766.6,94.5L769.1,94.5L771.6,94.4L774.1,94.3L776.6,94.3L779.0,94.2L781.5,94.1L784.0,94.1L786.5,94.0L789.0,93.9L791.5,93.9L794.0,93.8L796.5,93.7L799.0,93.7L801.5,93.6L804.0,93.5L806.5,93.5L809.0,93.4L811.5,93.3L814.0,93.3L816.5,93.2L818.9,93.1L821.4,93.1L823.9,93.0L826.4,93.0L828.9,92.9L831.4,92.8L833.9,92.8L836.4,92.7L838.9,92.6L841.4,92.6L843.9,92.5L846.4,92.5L848.9,92.4L851.4,92.3L853.9,92.3L856.4,92.2L858.9,92.1L861.3,92.1L863.8,92.0L866.3,92.0L868.8,91.9L871.3,91.8L873.8,91.8L876.3,91.7L878.8,91.7L881.3,91.6L883.8,91.6L886.3,91.5L888.8,91.4L891.3,91.4L893.8,91.3L896.3,91.3L898.8,91.2L901.3,91.2L903.8,91.1L906.3,91.1L908.8,91.0L911.3,90.9L913.7,90.9L916.2,90.8L918.7,90.8L921.2,90.7L923.7,90.7L926.2,90.6L928.7,90.6L931.2,90.5L933.7,90.5L936.2,90.4L938.7,90.4L941.2,90.3L943.7,90.3L946.2,90.2L948.7,90.2L951.2,90.1L953.7,90.1L956.2,90.0L958.7,90.0L961.2,89.9L963.7,89.9L966.2,89.8L968.7,89.8L971.2,89.7L973.7,89.7L976.2,89.6L978.7,89.6L981.2,89.5L983.7,89.5L986.2,89.5L988.7,89.4L991.2,89.4L993.7,89.3L996.2,89.3L998.7,89.2L1001.2,89.2L1003.7,89.1L1006.2,89.1L1008.7,89.1L1011.2,89.0L1013.7,89.0L1016.2,88.9L1018.8,88.9L1021.3,88.9L1023.8,88.8L1026.3,88.8L1028.8,88.7L1031.3,88.7L1033.8,88.7L1036.3,88.6L1038.8,88.6L1041.3,88.6L1043.8,88.5L1046.3,88.5L1048.8,88.4L1051.3,88.4L1053.8,88.4L1056.3,88.3L1058.8,88.3L1061.4,88.3L1063.9,88.2L1066.4,88.2L1068.9,88.2L1071.4,88.1L1073.9,88.1L1076.4,88.1L1078.9,88.1L1081.4,88.0L1083.9,88.0L1086.4,88.0L1088.9,87.9L1091.5,87.9L1094.0,87.9L1096.5,87.9L1099.0,87.8L1101.5,87.8L1104.0,87.8L1106.5,87.7L1109.0,87.7L1111.5,87.7L1114.0,87.7L1116.5,87.7L1119.1,87.6L1121.6,87.6L1124.1,87.6L1126.6,87.6L1129.1,87.5L1131.6,87.5L1134.1,87.5L1136.6,87.5L1139.1,87.5L1141.6,87.4L1144.2,87.4L1146.7,87.4L1149.2,87.4L1151.7,87.4L1154.2,87.4L1156.7,87.3L1159.2,87.3L1161.7,87.3L1164.2,87.3L1166.7,87.3L1169.3,87.3L1171.8,87.3L1174.3,87.2L1176.8,87.2L1179.3,87.2L1181.8,87.2L1184.3,87.2L1186.8,87.2L1189.3,87.2L1191.8,87.2L1194.4,87.2L1196.9,87.2L1199.4,87.1L1201.9,87.1L1204.4,87.1L1206.9,87.1L1209.4,87.1L1211.9,87.1L1214.4,87.1L1216.9,87.1L1219.5,87.1L1222.0,87.1L1224.5,87.1L1227.0,87.1L1229.5,87.1L1232.0,87.1L1234.5,87.1L1237.0,87.1L1239.5,87.1L1242.0,87.1L1244.5,87.1L1247.0,87.1L1249.6,87.1L1252.1,87.1L1254.6,87.1L1257.1,87.1L1259.6,87.2L1262.1,87.2L1264.6,87.2L1267.1,87.2L1269.6,87.2L1272.1,87.2L1274.6,87.2L1277.1,87.2L1279.6,87.2L1282.1,87.2L1284.6,87.3L1287.1,87.3L1289.7,87.3L1292.2,87.3L1294.7,87.3L1297.2,87.3L1299.7,87.4L1302.2,87.4L1304.7,87.4L1307.2,87.4L1309.7,87.4L1312.2,87.5L1314.7,87.5L1317.2,87.5L1319.7,87.5L1322.2,87.5L1324.7,87.6L1327.2,87.6L1329.7,87.6L1332.2,87.6L1334.7,87.7L1337.2,87.7L1339.7,87.7L1342.2,87.7L1344.7,87.7L1347.2,87.8L1349.7,87.8L1352.2,87.8L1354.7,87.8L1357.2,87.9L1359.7,87.9L1362.2,87.9L1364.7,87.9L1367.2,87.9L1369.7,88.0L1372.2,88.0L1374.7,88.0L1377.2,88.0L1379.6,88.0L1382.1,88.0L1384.6,88.1L1387.1,88.1L1389.6,88.1L1392.1,88.1L1394.6,88.1L1397.1,88.1L1399.6,88.1L1402.1,88.1L1404.6,88.1L1407.1,88.1L1409.6,88.1L1412.0,88.1L1414.5,88.1L1417.0,88.1L1419.5,88.1L1422.0,88.1L1424.5,88.1L1427.0,88.1L1429.5,88.1L1431.9,88.1L1434.4,88.1L1436.9,88.1L1439.4,88.1L1441.9,88.0L1444.4,88.0L1446.9,88.0L1449.3,88.0L1451.8,87.9L1454.3,87.9L1456.8,87.9L1459.3,87.9L1461.7,87.8L1464.2,87.8L1466.7,87.8L1469.2,87.7L1471.7,87.7L1474.1,87.7L1476.6,87.7L1479.1,87.6L1481.6,87.6L1484.0,87.6L1486.5,87.6L1489.0,87.6L1491.5,87.6L1493.9,87.6L1496.4,87.6L1498.9,87.6L1501.4,87.7L1503.8,87.7L1506.3,87.7L1508.8,87.8L1511.3,87.8L1513.7,87.9L1516.2,88.0L1518.7,88.1L1521.1,88.2L1523.6,88.3L1526.1,88.4L1528.5,88.5L1531.0,88.6L1533.5,88.8L1535.9,88.9L1538.4,89.1L1540.8,89.3L1543.3,89.5L1545.8,89.7L1548.2,89.9L1550.7,90.2L1553.2,90.4L1555.6,90.7L1558.1,91.0L1560.5,91.3L1563.0,91.6L1565.4,91.9L1567.9,92.3L1570.4,92.7L1572.8,93.0L1575.3,93.5L1577.7,93.9L1580.2,94.3L1582.6,94.8L1585.1,95.3L1587.5,95.8L1590.0,96.3L1592.4,96.9L1594.9,97.5L1597.3,98.1L1599.7,98.7L1602.2,99.3L1604.6,100.0L1607.0,100.7L1609.4,101.5L1611.8,102.2L1614.2,103.0L1616.6,103.8L1618.9,104.7L1621.3,105.6L1623.6,106.5L1626.0,107.5L1628.3,108.5L1630.6,109.5L1632.9,110.6L1635.1,111.7L1637.4,112.8L1639.6,114.0L1641.8,115.2L1644.0,116.5L1646.2,117.8L1648.3,119.1L1650.4,120.5L1652.5,122.0L1654.6,123.5L1656.6,125.0L1658.7,126.5L1660.7,128.1L1662.6,129.8L1664.6,131.5L1666.5,133.2L1668.3,134.9L1670.2,136.7L1672.0,138.5L1673.8,140.3L1675.5,142.2L1677.2,144.1L1678.9,146.0L1680.6,148.0L1682.2,149.9L1683.7,151.9L1685.3,154.0L1686.7,156.0L1688.2,158.1L1689.6,160.1L1691.0,162.2L1692.3,164.3L1693.6,166.5L1694.8,168.6L1696.0,170.8L1697.1,172.9L1698.3,175.1L1699.3,177.3L1700.4,179.5L1701.4,181.7L1702.4,184.0L1703.3,186.2L1704.3,188.5L1705.2,190.7L1706.1,193.0L1706.9,195.3L1707.8,197.6L1708.6,199.9L1709.4,202.2L1710.2,204.5L1711.0,206.9L1711.7,209.2L1712.5,211.6L1713.2,213.9L1714.0,216.3L1714.7,218.6L1715.5,221.0L1716.2,223.4L1716.9,225.8L1717.7,228.2L1718.4,230.6L1719.2,233.0L1720.0,235.4L1720.7,237.8L1721.5,240.2L1722.3,242.7L1723.0,245.1L1723.8,247.5L1724.6,249.9L1725.4,252.4L1726.1,254.8L1726.9,257.3L1727.7,259.7L1728.5,262.1L1729.2,264.6L1730.0,267.0L1730.8,269.4L1731.6,271.9L1732.3,274.3L1733.1,276.8L1733.9,279.2L1734.6,281.6L1735.4,284.1L1736.1,286.5L1736.9,288.9L1737.6,291.3L1738.4,293.8L1739.1,296.2L1739.8,298.6L1740.5,301.0L1741.2,303.4L1742.0,305.8L1742.7,308.2L1743.4,310.6L1744.0,313.0L1744.7,315.4L1745.4,317.8L1746.1,320.2L1746.7,322.6L1747.4,325.0L1748.1,327.3L1748.7,329.7L1749.4,332.1L1750.0,334.5L1750.6,336.9L1751.3,339.2L1751.9,341.6L1752.5,344.0L1753.1,346.4L1753.7,348.8L1754.3,351.1L1754.9,353.5L1755.5,355.9L1756.1,358.3L1756.7,360.7L1757.3,363.0L1757.8,365.4L1758.4,367.8L1759.0,370.2L1759.5,372.6L1760.1,375.0L1760.6,377.4L1761.2,379.8L1761.7,382.2L1762.3,384.6L1762.8,387.0L1763.3,389.4L1763.8,391.8L1764.3,394.2L1764.9,396.6L1765.4,399.0L1765.9,401.4L1766.4,403.9L1766.9,406.3L1767.3,408.7L1767.8,411.2L1768.3,413.6L1768.8,416.1L1769.3,418.5L1769.7,421.0L1770.2,423.4L1770.7,425.9L1771.1,428.4L1771.6,430.9L1772.0,433.3L1772.5,435.8L1772.9,438.3L1773.3,440.8L1773.8,443.3L1774.2,445.9L1774.6,448.4L1775.1,450.9L1775.5,453.4L1775.9,455.9L1776.4,458.5L1776.8,461.0L1777.2,463.5L1777.7,466.0L1778.1,468.6L1778.6,471.1L1779.0,473.6L1779.4,476.2L1779.9,478.7L1780.4,481.2L1780.8,483.8L1781.3,486.3L1781.7,488.8L1782.2,491.3L1782.7,493.9L1783.2,496.4L1783.7,498.9L1784.2,501.4L1784.7,503.9L1785.2,506.4L1785.8,508.9L1786.3,511.4L1786.9,513.9L1787.4,516.4L1788.0,518.9L1788.6,521.3L1789.2,523.8L1789.8,526.3L1790.4,528.7L1791.0,531.2L1791.7,533.6L1792.3,536.0L1793.0,538.4L1793.7,540.8L1794.4,543.2L1795.1,545.6L1795.8,548.0L1796.6,550.4L1797.4,552.7L1798.1,555.1L1799.0,557.4L1799.8,559.7L1800.6,562.0L1801.5,564.3L1802.3,566.6L1803.2,568.9L1804.2,571.1L1805.1,573.4L1806.1,575.6L1807.0,577.8L1808.1,580.0L1809.1,582.2L1810.1,584.3L1811.2,586.4L1812.3,588.5L1813.5,590.6L1814.7,592.7L1815.9,594.7L1817.1,596.7L1818.4,598.6L1819.7,600.6L1821.1,602.5L1822.4,604.3L1823.9,606.1L1825.3,607.9L1826.8,609.7L1828.4,611.4L1830.0,613.0L1831.6,614.6L1833.3,616.2L1835.0,617.7L1836.8,619.2L1838.6,620.6L1840.5,622.0L1842.5,623.3L1844.4,624.6L1846.5,625.8L1848.5,627.0L1850.7,628.1L1852.8,629.2L1855.1,630.2L1857.3,631.2L1859.6,632.2L1861.9,633.0L1864.3,633.9L1866.7,634.7L1869.1,635.5L1871.6,636.3L1874.0,637.0L1876.5,637.7L1879.0,638.3L1881.6,639.0L1884.1,639.6L1886.7,640.1L1889.2,640.7L1891.8,641.2L1894.4,641.8L1897.0,642.3L1899.5,642.7L1902.1,643.2L1904.7,643.7L1907.3,644.1L1909.9,644.5L1912.4,645.0L1915.0,645.4L1917.5,645.8L1920.1,646.2L1922.6,646.5L1925.2,646.9L1927.7,647.3L1930.2,647.6L1932.8,648.0L1935.3,648.3L1937.8,648.6L1940.3,649.0L1942.8,649.3L1945.4,649.6L1947.9,649.9L1950.4,650.2L1952.9,650.5L1955.3,650.7L1957.8,651.0L1960.3,651.3L1962.8,651.5L1965.3,651.8L1967.8,652.1L1970.2,652.3L1972.7,652.6L1975.2,652.8L1977.7,653.0L1980.1,653.3L1982.6,653.5L1985.1,653.7L1987.5,653.9L1990.0,654.2L1992.4,654.4L1994.9,654.6L1997.4,654.8L1999.8,655.0L2002.3,655.2L2004.7,655.4L2007.2,655.6L2009.6,655.8L2012.1,656.0L2014.6,656.3L2017.0,656.5L2019.5,656.7L2021.9,656.9L2024.4,657.1L2026.8,657.3L2029.3,657.5L2031.7,657.7L2034.2,657.9L2036.6,658.1L2039.1,658.4L2041.6,658.6L2044.0,658.8L2046.5,659.0L2049.0,659.3L2051.4,659.5L2053.9,659.7L2056.4,660.0L2058.8,660.2L2061.3,660.5L2063.8,660.7L2066.2,661.0L2068.7,661.2L2071.2,661.5L2073.7,661.7L2076.2,662.0L2078.6,662.2L2081.1,662.5L2083.6,662.8L2086.1,663.0L2088.6,663.3L2091.0,663.6L2093.5,663.9L2096.0,664.1L2098.5,664.4L2101.0,664.7L2103.5,665.0L2106.0,665.2L2108.5,665.5L2110.9,665.8L2113.4,666.1L2115.9,666.4L2118.4,666.7L2120.9,667.0L2123.4,667.3L2125.9,667.6L2128.4,667.9L2130.9,668.2L2133.4,668.4L2135.9,668.7L2138.4,669.0L2140.9,669.3L2143.4,669.6L2145.9,669.9L2148.4,670.2L2150.9,670.5L2153.4,670.8L2155.9,671.2L2158.4,671.5L2160.9,671.8L2163.4,672.1L2165.9,672.4L2168.4,672.7L2170.9,673.0L2173.4,673.3L2175.9,673.6L2178.4,673.9L2180.9,674.2L2183.4,674.5L2185.9,674.8L2188.4,675.1L2190.9,675.4L2193.4,675.7L2195.9,676.0L2198.3,676.3L2200.8,676.6L2203.3,676.9L2205.8,677.2L2208.3,677.5L2210.8,677.8L2213.3,678.1L2215.8,678.4L2218.3,678.7L2220.8,679.0L2223.3,679.3L2225.8,679.5L2228.3,679.8L2230.8,680.1L2233.3,680.4L2235.8,680.7L2238.3,681.0L2240.7,681.3L2243.2,681.5L2245.7,681.8L2248.2,682.1L2250.7,682.4L2253.2,682.6L2255.7,682.9L2258.1,683.2L2260.6,683.4L2263.1,683.7L2265.6,684.0L2268.1,684.2L2270.5,684.5L2273.0,684.7L2275.5,685.0L2278.0,685.2L2280.4,685.5L2282.9,685.7L2285.4,686.0L2287.8,686.2L2290.3,686.4L2292.8,686.7L2295.2,686.9L2297.7,687.1L2300.2,687.4L2302.6,687.6L2305.1,687.8L2307.5,688.0L2310.0,688.2L2312.4,688.4L2314.9,688.6L2317.4,688.8L2319.8,689.0L2322.2,689.2L2324.7,689.4L2327.1,689.6L2329.6,689.8" fill="none" stroke="#000000" stroke-width="15" stroke-linecap="round" stroke-linejoin="round" clip-path="url(#ca)"/>
<path d="M447.4,1704.9L449.9,1704.9L452.4,1704.9L454.9,1704.9L457.4,1704.9L459.9,1704.9L462.4,1704.9L465.0,1704.9L467.5,1704.9L470.0,1704.9L472.5,1704.9L475.0,1704.9L477.5,1704.9L480.0,1704.9L482.5,1704.9L485.0,1704.9L487.5,1704.9L490.0,1704.9L492.5,1704.9L495.0,1704.9L497.5,1704.9L500.0,1704.9L502.5,1704.9L505.0,1704.9L507.5,1704.9L510.0,1704.9L512.5,1704.9L515.0,1704.9L517.5,1704.9L520.0,1704.9L522.5,1704.9L525.0,1704.9L527.5,1704.9L530.0,1704.9L532.5,1704.9L535.0,1704.9L537.5,1704.9L540.0,1704.9L542.6,1704.8L545.1,1704.8L547.6,1704.8L550.1,1704.8L552.6,1704.8L555.1,1704.8L557.6,1704.8L560.1,1704.8L562.6,1704.8L565.1,1704.8L567.6,1704.8L570.1,1704.8L572.6,1704.8L575.1,1704.8L577.6,1704.8L580.1,1704.8L582.6,1704.8L585.1,1704.8L587.6,1704.8L590.1,1704.8L592.6,1704.8L595.1,1704.8L597.6,1704.8L600.1,1704.8L602.6,1704.8L605.1,1704.8L607.6,1704.8L610.1,1704.8L612.6,1704.8L615.1,1704.7L617.6,1704.7L620.1,1704.7L622.6,1704.7L625.1,1704.7L627.6,1704.7L630.1,1704.7L632.6,1704.7L635.1,1704.7L637.6,1704.7L640.1,1704.7L642.6,1704.7L645.1,1704.7L647.6,1704.7L650.1,1704.7L652.6,1704.7L655.1,1704.7L657.6,1704.7L660.1,1704.7L662.6,1704.7L665.1,1704.7L667.6,1704.7L670.1,1704.6L672.6,1704.6L675.1,1704.6L677.6,1704.6L680.1,1704.6L682.6,1704.6L685.1,1704.6L687.6,1704.6L690.1,1704.6L692.6,1704.6L695.1,1704.6L697.6,1704.6L700.1,1704.6L702.6,1704.6L705.1,1704.6L707.6,1704.6L710.1,1704.6L712.6,1704.6L715.1,1704.6L717.6,1704.5L720.1,1704.5L722.6,1704.5L725.1,1704.5L727.6,1704.5L730.1,1704.5L732.6,1704.5L735.1,1704.5L737.6,1704.5L740.1,1704.5L742.6,1704.5L745.1,1704.5L747.6,1704.5L750.1,1704.5L752.6,1704.5L755.1,1704.5L757.6,1704.5L760.1,1704.4L762.6,1704.4L765.1,1704.4L767.6,1704.4L770.1,1704.4L772.6,1704.4L775.1,1704.4L777.6,1704.4L780.1,1704.4L782.6,1704.4L785.1,1704.4L787.6,1704.4L790.1,1704.4L792.6,1704.4L795.1,1704.4L797.6,1704.4L800.1,1704.3L802.6,1704.3L805.1,1704.3L807.6,1704.3L810.1,1704.3L812.6,1704.3L815.1,1704.3L817.6,1704.3L820.1,1704.3L822.6,1704.3L825.1,1704.3L827.6,1704.3L830.1,1704.3L832.6,1704.3L835.1,1704.3L837.6,1704.3L840.1,1704.2L842.6,1704.2L845.1,1704.2L847.6,1704.2L850.1,1704.2L852.6,1704.2L855.1,1704.2L857.6,1704.2L860.1,1704.2L862.6,1704.2L865.1,1704.2L867.6,1704.2L870.1,1704.2L872.6,1704.2L875.1,1704.2L877.6,1704.2L880.1,1704.1L882.6,1704.1L885.1,1704.1L887.6,1704.1L890.1,1704.1L892.6,1704.1L895.1,1704.1L897.6,1704.1L900.1,1704.1L902.6,1704.1L905.1,1704.1L907.6,1704.1L910.1,1704.1L912.6,1704.1L915.1,1704.1L917.6,1704.1L920.1,1704.0L922.6,1704.0L925.1,1704.0L927.6,1704.0L930.1,1704.0L932.6,1704.0L935.1,1704.0L937.6,1704.0L940.1,1704.0L942.6,1704.0L945.1,1704.0L947.6,1704.0L950.1,1704.0L952.6,1704.0L955.1,1704.0L957.6,1704.0L960.1,1704.0L962.6,1703.9L965.1,1703.9L967.6,1703.9L970.1,1703.9L972.6,1703.9L975.1,1703.9L977.6,1703.9L980.1,1703.9L982.6,1703.9L985.1,1703.9L987.6,1703.9L990.1,1703.9L992.6,1703.9L995.1,1703.9L997.6,1703.9L1000.1,1703.9L1002.6,1703.9L1005.1,1703.8L1007.6,1703.8L1010.1,1703.8L1012.6,1703.8L1015.1,1703.8L1017.6,1703.8L1020.1,1703.8L1022.6,1703.8L1025.1,1703.8L1027.6,1703.8L1030.1,1703.8L1032.6,1703.8L1035.2,1703.8L1037.7,1703.8L1040.2,1703.8L1042.7,1703.8L1045.2,1703.8L1047.7,1703.8L1050.2,1703.8L1052.7,1703.7L1055.2,1703.7L1057.7,1703.7L1060.2,1703.7L1062.7,1703.7L1065.2,1703.7L1067.7,1703.7L1070.2,1703.7L1072.7,1703.7L1075.2,1703.7L1077.7,1703.7L1080.2,1703.7L1082.7,1703.7L1085.2,1703.7L1087.7,1703.7L1090.2,1703.7L1092.7,1703.7L1095.2,1703.7L1097.7,1703.7L1100.2,1703.6L1102.7,1703.6L1105.3,1703.6L1107.8,1703.6L1110.3,1703.6L1112.8,1703.6L1115.3,1703.6L1117.8,1703.6L1120.3,1703.6L1122.8,1703.6L1125.3,1703.6L1127.8,1703.6L1130.3,1703.6L1132.8,1703.6L1135.3,1703.6L1137.8,1703.6L1140.3,1703.5L1142.8,1703.5L1145.3,1703.5L1147.8,1703.5L1150.3,1703.5L1152.8,1703.5L1155.3,1703.5L1157.8,1703.5L1160.3,1703.5L1162.8,1703.5L1165.3,1703.5L1167.8,1703.5L1170.3,1703.5L1172.8,1703.4L1175.3,1703.4L1177.8,1703.4L1180.3,1703.4L1182.8,1703.4L1185.3,1703.4L1187.8,1703.4L1190.4,1703.4L1192.9,1703.4L1195.4,1703.4L1197.9,1703.3L1200.4,1703.3L1202.9,1703.3L1205.4,1703.3L1207.9,1703.3L1210.4,1703.3L1212.9,1703.3L1215.4,1703.3L1217.9,1703.3L1220.4,1703.2L1222.9,1703.2L1225.4,1703.2L1227.9,1703.2L1230.4,1703.2L1232.9,1703.2L1235.4,1703.2L1237.9,1703.1L1240.4,1703.1L1242.9,1703.1L1245.4,1703.1L1247.9,1703.1L1250.4,1703.1L1252.8,1703.1L1255.3,1703.0L1257.8,1703.0L1260.3,1703.0L1262.8,1703.0L1265.3,1703.0L1267.8,1703.0L1270.3,1702.9L1272.8,1702.9L1275.3,1702.9L1277.8,1702.9L1280.3,1702.9L1282.8,1702.8L1285.3,1702.8L1287.8,1702.8L1290.3,1702.8L1292.8,1702.8L1295.3,1702.7L1297.8,1702.7L1300.3,1702.7L1302.8,1702.7L1305.3,1702.6L1307.8,1702.6L1310.2,1702.6L1312.7,1702.6L1315.2,1702.6L1317.7,1702.5L1320.2,1702.5L1322.7,1702.5L1325.2,1702.5L1327.7,1702.4L1330.2,1702.4L1332.7,1702.4L1335.2,1702.3L1337.7,1702.3L1340.1,1702.3L1342.6,1702.3L1345.1,1702.2L1347.6,1702.2L1350.1,1702.2L1352.6,1702.2L1355.1,1702.1L1357.6,1702.1L1360.1,1702.1L1362.6,1702.0L1365.0,1702.0L1367.5,1702.0L1370.0,1702.0L1372.5,1701.9L1375.0,1701.9L1377.5,1701.9L1380.0,1701.9L1382.5,1701.8L1385.0,1701.8L1387.5,1701.8L1390.0,1701.8L1392.5,1701.7L1395.0,1701.7L1397.4,1701.7L1399.9,1701.7L1402.4,1701.7L1404.9,1701.6L1407.4,1701.6L1409.9,1701.6L1412.4,1701.6L1414.9,1701.6L1417.4,1701.6L1419.9,1701.6L1422.4,1701.5L1425.0,1701.5L1427.5,1701.5L1430.0,1701.5L1432.5,1701.5L1435.0,1701.5L1437.5,1701.5L1440.0,1701.5L1442.5,1701.5L1445.0,1701.5L1447.5,1701.5L1450.1,1701.5L1452.6,1701.5L1455.1,1701.6L1457.6,1701.6L1460.1,1701.6L1462.7,1701.6L1465.2,1701.6L1467.7,1701.6L1470.3,1701.7L1472.8,1701.7L1475.3,1701.7L1477.8,1701.7L1480.4,1701.8L1482.9,1701.8L1485.5,1701.8L1488.0,1701.9L1490.5,1701.9L1493.1,1701.9L1495.6,1702.0L1498.2,1702.0L1500.7,1702.0L1503.2,1702.0L1505.8,1702.1L1508.3,1702.1L1510.8,1702.1L1513.4,1702.1L1515.9,1702.0L1518.4,1702.0L1521.0,1702.0L1523.5,1701.9L1526.0,1701.9L1528.5,1701.8L1531.0,1701.7L1533.5,1701.6L1536.0,1701.5L1538.5,1701.4L1541.0,1701.2L1543.5,1701.1L1546.0,1700.9L1548.5,1700.7L1551.0,1700.5L1553.4,1700.2L1555.9,1700.0L1558.3,1699.7L1560.8,1699.4L1563.2,1699.0L1565.7,1698.7L1568.1,1698.3L1570.5,1697.9L1572.9,1697.5L1575.3,1697.0L1577.7,1696.5L1580.1,1696.0L1582.5,1695.5L1584.8,1694.9L1587.2,1694.3L1589.5,1693.7L1591.8,1693.0L1594.2,1692.3L1596.5,1691.6L1598.8,1690.8L1601.0,1690.0L1603.3,1689.1L1605.6,1688.3L1607.8,1687.3L1610.1,1686.4L1612.3,1685.4L1614.5,1684.4L1616.7,1683.3L1618.9,1682.2L1621.0,1681.0L1623.2,1679.8L1625.3,1678.6L1627.4,1677.3L1629.6,1676.0L1631.7,1674.6L1633.7,1673.2L1635.8,1671.8L1637.9,1670.4L1639.9,1668.9L1641.9,1667.4L1643.9,1665.9L1645.9,1664.3L1647.9,1662.7L1649.8,1661.1L1651.8,1659.5L1653.7,1657.8L1655.6,1656.2L1657.5,1654.5L1659.4,1652.8L1661.3,1651.0L1663.1,1649.3L1665.0,1647.5L1666.8,1645.7L1668.6,1643.9L1670.4,1642.1L1672.1,1640.3L1673.9,1638.4L1675.6,1636.6L1677.3,1634.7L1679.0,1632.9L1680.7,1631.0L1682.4,1629.1L1684.0,1627.2L1685.6,1625.3L1687.3,1623.4L1688.8,1621.4L1690.4,1619.5L1692.0,1617.6L1693.5,1615.6L1695.0,1613.6L1696.5,1611.6L1698.0,1609.6L1699.5,1607.6L1700.9,1605.6L1702.4,1603.6L1703.8,1601.6L1705.2,1599.5L1706.5,1597.4L1707.9,1595.4L1709.2,1593.3L1710.5,1591.2L1711.8,1589.1L1713.1,1587.0L1714.3,1584.8L1715.6,1582.7L1716.8,1580.6L1718.0,1578.4L1719.1,1576.2L1720.3,1574.0L1721.4,1571.8L1722.6,1569.6L1723.7,1567.4L1724.8,1565.2L1725.8,1563.0L1726.9,1560.7L1727.9,1558.5L1729.0,1556.2L1730.0,1554.0L1731.0,1551.7L1732.0,1549.4L1733.0,1547.1L1733.9,1544.8L1734.9,1542.5L1735.8,1540.2L1736.7,1537.9L1737.6,1535.6L1738.6,1533.3L1739.5,1530.9L1740.3,1528.6L1741.2,1526.3L1742.1,1523.9L1742.9,1521.6L1743.8,1519.2L1744.6,1516.8L1745.5,1514.5L1746.3,1512.1L1747.1,1509.7L1748.0,1507.4L1748.8,1505.0L1749.6,1502.6L1750.4,1500.2L1751.2,1497.9L1752.0,1495.5L1752.8,1493.1L1753.6,1490.7L1754.4,1488.3L1755.2,1485.9L1755.9,1483.5L1756.7,1481.2L1757.5,1478.8L1758.3,1476.4L1759.1,1474.0L1759.9,1471.6L1760.7,1469.2L1761.4,1466.8L1762.2,1464.5L1763.0,1462.1L1763.8,1459.7L1764.6,1457.3L1765.4,1455.0L1766.2,1452.6L1767.0,1450.2L1767.8,1447.9L1768.7,1445.5L1769.5,1443.1L1770.3,1440.8L1771.2,1438.4L1772.0,1436.1L1772.9,1433.7L1773.8,1431.3L1774.6,1429.0L1775.5,1426.6L1776.4,1424.3L1777.4,1421.9L1778.3,1419.6L1779.2,1417.2L1780.2,1414.8L1781.2,1412.5L1782.2,1410.2L1783.2,1407.8L1784.2,1405.5L1785.3,1403.2L1786.3,1400.8L1787.4,1398.5L1788.5,1396.2L1789.6,1394.0L1790.8,1391.7L1791.9,1389.5L1793.1,1387.4L1794.3,1385.5L1795.5,1384.0L1796.7,1383.0L1797.8,1382.4L1799.0,1382.4L1800.2,1382.8L1801.3,1383.8L1802.4,1385.2L1803.4,1387.0L1804.4,1388.9L1805.4,1391.1L1806.3,1393.3L1807.1,1395.5L1807.9,1397.8L1808.7,1400.1L1809.4,1402.5L1810.0,1404.9L1810.7,1407.3L1811.3,1409.7L1811.9,1412.2L1812.4,1414.7L1812.9,1417.2L1813.4,1419.7L1813.9,1422.2L1814.4,1424.7L1814.9,1427.2L1815.4,1429.7L1815.8,1432.2L1816.2,1434.7L1816.7,1437.2L1817.1,1439.8L1817.5,1442.3L1817.9,1444.8L1818.4,1447.3L1818.7,1449.8L1819.1,1452.3L1819.5,1454.8L1819.9,1457.3L1820.3,1459.8L1820.6,1462.3L1821.0,1464.8L1821.4,1467.3L1821.7,1469.8L1822.1,1472.3L1822.4,1474.8L1822.7,1477.3L1823.1,1479.8L1823.4,1482.3L1823.7,1484.8L1824.1,1487.3L1824.4,1489.8L1824.7,1492.3L1825.0,1494.8L1825.3,1497.2L1825.6,1499.7L1826.0,1502.2L1826.3,1504.7L1826.6,1507.2L1826.9,1509.7L1827.2,1512.1L1827.5,1514.6L1827.8,1517.1L1828.1,1519.6L1828.5,1522.0L1828.8,1524.5L1829.1,1527.0L1829.4,1529.4L1829.7,1531.9L1830.1,1534.3L1830.4,1536.8L1830.7,1539.3L1831.1,1541.7L1831.4,1544.2L1831.7,1546.6L1832.1,1549.1L1832.4,1551.5L1832.8,1553.9L1833.1,1556.4L1833.5,1558.8L1833.9,1561.3L1834.3,1563.7L1834.6,1566.1L1835.0,1568.5L1835.4,1571.0L1835.8,1573.4L1836.2,1575.8L1836.7,1578.2L1837.1,1580.6L1837.5,1583.1L1838.0,1585.5L1838.5,1587.9L1838.9,1590.3L1839.4,1592.7L1839.9,1595.1L1840.5,1597.6L1841.0,1600.0L1841.6,1602.4L1842.2,1604.8L1842.8,1607.3L1843.4,1609.7L1844.0,1612.1L1844.7,1614.6L1845.4,1617.0L1846.1,1619.5L1846.8,1621.9L1847.6,1624.4L1848.4,1626.9L1849.2,1629.3L1850.0,1631.8L1850.9,1634.3L1851.8,1636.8L1852.8,1639.3L1853.7,1641.8L1854.8,1644.3L1855.8,1646.8L1856.9,1649.2L1858.0,1651.7L1859.2,1654.0L1860.5,1656.3L1861.8,1658.6L1863.1,1660.7L1864.6,1662.8L1866.1,1664.7L1867.7,1666.6L1869.3,1668.3L1871.1,1669.9L1872.9,1671.3L1874.8,1672.6L1876.7,1673.8L1878.7,1674.9L1880.8,1675.9L1883.0,1676.8L1885.1,1677.6L1887.3,1678.3L1889.6,1679.0L1891.9,1679.6L1894.2,1680.2L1896.5,1680.8L1898.8,1681.3L1901.2,1681.9L1903.5,1682.4L1905.9,1682.9L1908.2,1683.4L1910.6,1683.8L1913.0,1684.3L1915.4,1684.7L1917.8,1685.1L1920.2,1685.5L1922.6,1685.9L1925.0,1686.3L1927.4,1686.7L1929.8,1687.1L1932.3,1687.4L1934.7,1687.7L1937.1,1688.1L1939.6,1688.4L1942.0,1688.7L1944.5,1689.0L1947.0,1689.2L1949.4,1689.5L1951.9,1689.8L1954.4,1690.0L1956.9,1690.3L1959.4,1690.5L1961.8,1690.7L1964.3,1690.9L1966.8,1691.1L1969.3,1691.3L1971.8,1691.5L1974.3,1691.7L1976.9,1691.9L1979.4,1692.1L1981.9,1692.2L1984.4,1692.4L1986.9,1692.5L1989.4,1692.7L1992.0,1692.8L1994.5,1692.9L1997.0,1693.0L1999.6,1693.2L2002.1,1693.3L2004.6,1693.4L2007.1,1693.5L2009.7,1693.6L2012.2,1693.7L2014.7,1693.8L2017.3,1693.9L2019.8,1694.0L2022.3,1694.0L2024.9,1694.1L2027.4,1694.2L2029.9,1694.3L2032.5,1694.4L2035.0,1694.4L2037.5,1694.5L2040.1,1694.6L2042.6,1694.6L2045.1,1694.7L2047.6,1694.8L2050.1,1694.8L2052.7,1694.9L2055.2,1695.0L2057.7,1695.1L2060.2,1695.1L2062.7,1695.2L2065.2,1695.2L2067.8,1695.3L2070.3,1695.4L2072.8,1695.4L2075.3,1695.5L2077.8,1695.6L2080.3,1695.6L2082.8,1695.7L2085.3,1695.7L2087.8,1695.8L2090.3,1695.9L2092.8,1695.9L2095.3,1696.0L2097.8,1696.0L2100.3,1696.1L2102.8,1696.1L2105.3,1696.2L2107.8,1696.2L2110.3,1696.3L2112.8,1696.3L2115.3,1696.4L2117.8,1696.4L2120.3,1696.5L2122.8,1696.5L2125.2,1696.6L2127.7,1696.6L2130.2,1696.7L2132.7,1696.7L2135.2,1696.8L2137.7,1696.8L2140.2,1696.9L2142.7,1696.9L2145.2,1696.9L2147.6,1697.0L2150.1,1697.0L2152.6,1697.1L2155.1,1697.1L2157.6,1697.1L2160.1,1697.2L2162.6,1697.2L2165.0,1697.2L2167.5,1697.3L2170.0,1697.3L2172.5,1697.3L2175.0,1697.4L2177.5,1697.4L2180.0,1697.4L2182.4,1697.5L2184.9,1697.5L2187.4,1697.5L2189.9,1697.5L2192.4,1697.6L2194.9,1697.6L2197.4,1697.6L2199.8,1697.6L2202.3,1697.7L2204.8,1697.7L2207.3,1697.7L2209.8,1697.7L2212.3,1697.7L2214.8,1697.8L2217.3,1697.8L2219.8,1697.8L2222.3,1697.8L2224.8,1697.8L2227.2,1697.8L2229.7,1697.9L2232.2,1697.9L2234.7,1697.9L2237.2,1697.9L2239.7,1697.9L2242.2,1697.9L2244.7,1697.9L2247.2,1697.9L2249.7,1697.9L2252.2,1697.9L2254.7,1697.9L2257.2,1697.9L2259.7,1697.9L2262.2,1697.9L2264.8,1697.9L2267.3,1697.9L2269.8,1697.9L2272.3,1697.9L2274.8,1697.9L2277.3,1697.9L2279.8,1697.9L2282.3,1697.9L2284.9,1697.9L2287.4,1697.9L2289.9,1697.9L2292.4,1697.9L2294.9,1697.9L2297.5,1697.8L2300.0,1697.8L2302.5,1697.8L2305.1,1697.8L2307.6,1697.8L2310.1,1697.8L2312.7,1697.7L2315.2,1697.7L2317.7,1697.7L2320.3,1697.7L2322.8,1697.7L2325.4,1697.6L2327.9,1697.6L2330.4,1697.6" fill="none" stroke="#008e5f" stroke-width="15" stroke-linecap="round" stroke-linejoin="round" clip-path="url(#cb)"/>
<path d="M446.8,1709.9L449.3,1709.6L451.8,1709.4L454.3,1709.1L456.8,1708.9L459.3,1708.6L461.8,1708.4L464.3,1708.2L466.8,1708.0L469.3,1707.8L471.8,1707.6L474.3,1707.5L476.8,1707.3L479.3,1707.1L481.8,1707.0L484.3,1706.8L486.8,1706.7L489.3,1706.6L491.8,1706.4L494.3,1706.3L496.8,1706.2L499.3,1706.1L501.8,1706.0L504.3,1705.9L506.8,1705.8L509.3,1705.8L511.9,1705.7L514.4,1705.6L516.9,1705.6L519.4,1705.5L521.9,1705.4L524.4,1705.4L526.9,1705.3L529.4,1705.3L531.9,1705.3L534.4,1705.2L536.9,1705.2L539.4,1705.2L541.9,1705.2L544.4,1705.2L546.9,1705.1L549.4,1705.1L551.9,1705.1L554.4,1705.1L556.9,1705.1L559.4,1705.1L561.9,1705.1L564.4,1705.1L566.9,1705.1L569.4,1705.2L571.9,1705.2L574.4,1705.2L576.9,1705.2L579.4,1705.2L581.9,1705.2L584.4,1705.2L586.9,1705.2L589.4,1705.3L591.9,1705.3L594.4,1705.3L596.9,1705.3L599.4,1705.3L601.9,1705.3L604.4,1705.3L606.9,1705.4L609.4,1705.4L611.9,1705.4L614.4,1705.4L616.9,1705.4L619.4,1705.4L621.9,1705.4L624.4,1705.4L626.9,1705.4L629.4,1705.4L631.9,1705.4L634.4,1705.4L636.9,1705.4L639.4,1705.4L641.9,1705.4L644.4,1705.4L646.9,1705.4L649.4,1705.4L651.9,1705.4L654.4,1705.4L656.9,1705.4L659.4,1705.4L661.9,1705.3L664.4,1705.3L666.9,1705.3L669.4,1705.3L671.9,1705.3L674.4,1705.3L676.9,1705.3L679.4,1705.2L681.9,1705.2L684.4,1705.2L686.9,1705.2L689.4,1705.2L691.9,1705.2L694.4,1705.1L696.9,1705.1L699.4,1705.1L701.9,1705.1L704.4,1705.1L706.9,1705.0L709.4,1705.0L711.9,1705.0L714.4,1705.0L716.9,1705.0L719.4,1704.9L721.9,1704.9L724.4,1704.9L726.9,1704.9L729.4,1704.8L731.9,1704.8L734.4,1704.8L736.9,1704.8L739.4,1704.8L741.9,1704.7L744.4,1704.7L746.9,1704.7L749.4,1704.7L751.9,1704.7L754.4,1704.6L756.9,1704.6L759.4,1704.6L761.9,1704.6L764.4,1704.5L766.9,1704.5L769.4,1704.5L771.9,1704.5L774.4,1704.5L776.9,1704.4L779.4,1704.4L781.9,1704.4L784.4,1704.4L786.9,1704.4L789.4,1704.4L791.9,1704.3L794.4,1704.3L796.9,1704.3L799.4,1704.3L801.9,1704.3L804.4,1704.3L806.9,1704.3L809.4,1704.2L811.9,1704.2L814.4,1704.2L816.9,1704.2L819.4,1704.2L821.9,1704.2L824.4,1704.2L826.9,1704.1L829.4,1704.1L831.9,1704.1L834.4,1704.1L836.9,1704.1L839.4,1704.1L841.9,1704.1L844.4,1704.1L846.9,1704.1L849.4,1704.0L851.9,1704.0L854.4,1704.0L856.9,1704.0L859.4,1704.0L861.9,1704.0L864.4,1704.0L866.9,1704.0L869.4,1704.0L871.9,1704.0L874.4,1704.0L876.9,1703.9L879.4,1703.9L881.9,1703.9L884.4,1703.9L886.9,1703.9L889.4,1703.9L891.9,1703.9L894.4,1703.9L897.0,1703.9L899.5,1703.9L902.0,1703.9L904.5,1703.9L907.0,1703.9L909.5,1703.9L912.0,1703.9L914.5,1703.8L917.0,1703.8L919.5,1703.8L922.0,1703.8L924.5,1703.8L927.0,1703.8L929.5,1703.8L932.0,1703.8L934.5,1703.8L937.0,1703.8L939.5,1703.8L942.0,1703.8L944.5,1703.8L947.0,1703.8L949.5,1703.8L952.0,1703.8L954.5,1703.8L957.0,1703.8L959.5,1703.8L962.0,1703.8L964.5,1703.8L967.0,1703.7L969.5,1703.7L972.0,1703.7L974.5,1703.7L977.0,1703.7L979.5,1703.7L982.0,1703.7L984.5,1703.7L987.0,1703.7L989.5,1703.7L992.0,1703.7L994.5,1703.7L997.0,1703.7L999.5,1703.7L1002.0,1703.7L1004.5,1703.7L1007.0,1703.7L1009.5,1703.7L1012.0,1703.7L1014.5,1703.7L1017.0,1703.7L1019.5,1703.7L1022.1,1703.7L1024.6,1703.7L1027.1,1703.6L1029.6,1703.6L1032.1,1703.6L1034.6,1703.6L1037.1,1703.6L1039.6,1703.6L1042.1,1703.6L1044.6,1703.6L1047.1,1703.6L1049.6,1703.6L1052.1,1703.6L1054.6,1703.6L1057.1,1703.6L1059.6,1703.6L1062.1,1703.6L1064.6,1703.6L1067.1,1703.6L1069.6,1703.6L1072.1,1703.5L1074.6,1703.5L1077.1,1703.5L1079.6,1703.5L1082.1,1703.5L1084.6,1703.5L1087.1,1703.5L1089.6,1703.5L1092.1,1703.5L1094.7,1703.5L1097.2,1703.5L1099.7,1703.5L1102.2,1703.5L1104.7,1703.4L1107.2,1703.4L1109.7,1703.4L1112.2,1703.4L1114.7,1703.4L1117.2,1703.4L1119.7,1703.4L1122.2,1703.4L1124.7,1703.4L1127.2,1703.4L1129.7,1703.3L1132.2,1703.3L1134.7,1703.3L1137.2,1703.3L1139.7,1703.3L1142.2,1703.3L1144.7,1703.3L1147.2,1703.3L1149.8,1703.3L1152.3,1703.2L1154.8,1703.2L1157.3,1703.2L1159.8,1703.2L1162.3,1703.2L1164.8,1703.2L1167.3,1703.2L1169.8,1703.2L1172.3,1703.2L1174.8,1703.1L1177.3,1703.1L1179.8,1703.1L1182.3,1703.1L1184.8,1703.1L1187.3,1703.1L1189.8,1703.1L1192.3,1703.1L1194.8,1703.1L1197.3,1703.1L1199.8,1703.0L1202.3,1703.0L1204.8,1703.0L1207.4,1703.0L1209.9,1703.0L1212.4,1703.0L1214.9,1703.0L1217.4,1703.0L1219.9,1703.0L1222.4,1703.0L1224.9,1702.9L1227.4,1702.9L1229.9,1702.9L1232.4,1702.9L1234.9,1702.9L1237.4,1702.9L1239.9,1702.9L1242.4,1702.9L1244.9,1702.9L1247.4,1702.9L1249.9,1702.9L1252.4,1702.9L1254.9,1702.8L1257.4,1702.8L1259.9,1702.8L1262.4,1702.8L1264.9,1702.8L1267.4,1702.8L1269.9,1702.8L1272.4,1702.8L1274.9,1702.8L1277.4,1702.8L1279.9,1702.8L1282.4,1702.8L1284.9,1702.8L1287.4,1702.8L1289.9,1702.8L1292.4,1702.8L1294.9,1702.8L1297.4,1702.8L1299.9,1702.8L1302.4,1702.8L1304.9,1702.8L1307.4,1702.8L1309.9,1702.8L1312.4,1702.8L1314.9,1702.8L1317.4,1702.8L1319.9,1702.8L1322.4,1702.8L1324.9,1702.8L1327.4,1702.8L1329.9,1702.8L1332.4,1702.8L1334.9,1702.8L1337.4,1702.8L1339.9,1702.8L1342.4,1702.8L1344.9,1702.8L1347.4,1702.8L1349.9,1702.8L1352.4,1702.8L1354.9,1702.8L1357.4,1702.8L1359.9,1702.9L1362.4,1702.9L1364.9,1702.9L1367.4,1702.9L1369.9,1702.9L1372.4,1702.9L1374.9,1702.9L1377.4,1702.9L1379.9,1702.9L1382.4,1703.0L1384.9,1703.0L1387.4,1703.0L1389.8,1703.0L1392.3,1703.0L1394.8,1703.0L1397.3,1703.0L1399.8,1703.1L1402.3,1703.1L1404.8,1703.1L1407.3,1703.1L1409.8,1703.1L1412.3,1703.2L1414.8,1703.2L1417.3,1703.2L1419.8,1703.2L1422.2,1703.2L1424.7,1703.3L1427.2,1703.3L1429.7,1703.3L1432.2,1703.3L1434.7,1703.4L1437.2,1703.4L1439.7,1703.4L1442.2,1703.4L1444.7,1703.5L1447.2,1703.5L1449.6,1703.5L1452.1,1703.5L1454.6,1703.5L1457.1,1703.5L1459.6,1703.6L1462.1,1703.6L1464.6,1703.6L1467.1,1703.6L1469.6,1703.6L1472.1,1703.6L1474.6,1703.6L1477.1,1703.6L1479.6,1703.7L1482.1,1703.7L1484.6,1703.7L1487.0,1703.7L1489.5,1703.7L1492.0,1703.6L1494.5,1703.6L1497.0,1703.6L1499.5,1703.6L1502.0,1703.6L1504.5,1703.6L1507.0,1703.6L1509.5,1703.5L1512.0,1703.5L1514.6,1703.5L1517.1,1703.5L1519.6,1703.4L1522.1,1703.4L1524.6,1703.4L1527.1,1703.3L1529.6,1703.3L1532.1,1703.2L1534.6,1703.2L1537.1,1703.1L1539.6,1703.0L1542.2,1703.0L1544.7,1702.9L1547.2,1702.8L1549.7,1702.7L1552.2,1702.7L1554.7,1702.6L1557.3,1702.5L1559.8,1702.4L1562.3,1702.3L1564.8,1702.2L1567.4,1702.1L1569.9,1701.9L1572.4,1701.8L1575.0,1701.7L1577.5,1701.6L1580.0,1701.4L1582.6,1701.3L1585.1,1701.1L1587.6,1700.9L1590.1,1700.8L1592.7,1700.6L1595.2,1700.4L1597.7,1700.1L1600.2,1699.9L1602.7,1699.6L1605.2,1699.3L1607.7,1699.0L1610.2,1698.7L1612.7,1698.3L1615.2,1698.0L1617.7,1697.5L1620.1,1697.1L1622.6,1696.7L1625.0,1696.2L1627.5,1695.6L1629.9,1695.1L1632.3,1694.5L1634.7,1693.9L1637.1,1693.2L1639.5,1692.5L1641.9,1691.8L1644.2,1691.0L1646.6,1690.2L1648.9,1689.3L1651.2,1688.4L1653.5,1687.5L1655.8,1686.5L1658.1,1685.5L1660.3,1684.4L1662.5,1683.3L1664.7,1682.2L1666.9,1681.0L1669.1,1679.8L1671.3,1678.6L1673.4,1677.3L1675.5,1676.0L1677.6,1674.7L1679.7,1673.3L1681.7,1671.9L1683.7,1670.4L1685.7,1669.0L1687.7,1667.5L1689.7,1665.9L1691.6,1664.4L1693.5,1662.8L1695.4,1661.1L1697.2,1659.5L1699.0,1657.8L1700.8,1656.1L1702.6,1654.4L1704.3,1652.6L1706.1,1650.8L1707.7,1649.0L1709.4,1647.2L1711.0,1645.3L1712.6,1643.4L1714.2,1641.5L1715.7,1639.6L1717.2,1637.6L1718.7,1635.7L1720.1,1633.7L1721.5,1631.6L1722.9,1629.6L1724.3,1627.6L1725.6,1625.5L1726.9,1623.4L1728.2,1621.3L1729.4,1619.1L1730.6,1617.0L1731.8,1614.8L1733.0,1612.6L1734.1,1610.4L1735.2,1608.2L1736.3,1606.0L1737.3,1603.7L1738.3,1601.5L1739.3,1599.2L1740.2,1596.9L1741.2,1594.6L1742.1,1592.3L1742.9,1589.9L1743.8,1587.6L1744.6,1585.2L1745.4,1582.9L1746.2,1580.5L1746.9,1578.1L1747.6,1575.7L1748.3,1573.3L1749.0,1570.9L1749.6,1568.5L1750.2,1566.0L1750.8,1563.6L1751.4,1561.2L1751.9,1558.7L1752.5,1556.3L1753.0,1553.8L1753.5,1551.3L1754.0,1548.8L1754.5,1546.4L1755.0,1543.9L1755.4,1541.4L1755.9,1538.9L1756.3,1536.4L1756.7,1533.9L1757.2,1531.4L1757.6,1528.9L1758.0,1526.4L1758.4,1523.9L1758.8,1521.4L1759.2,1518.9L1759.6,1516.4L1760.0,1513.9L1760.4,1511.4L1760.8,1508.9L1761.2,1506.4L1761.6,1503.9L1762.0,1501.5L1762.4,1499.0L1762.8,1496.5L1763.2,1494.0L1763.6,1491.5L1764.0,1489.1L1764.4,1486.6L1764.8,1484.1L1765.2,1481.6L1765.7,1479.2L1766.1,1476.7L1766.5,1474.3L1766.9,1471.8L1767.3,1469.3L1767.8,1466.9L1768.2,1464.4L1768.6,1462.0L1769.1,1459.5L1769.5,1457.0L1769.9,1454.6L1770.4,1452.1L1770.8,1449.7L1771.2,1447.2L1771.7,1444.8L1772.1,1442.3L1772.5,1439.9L1773.0,1437.5L1773.4,1435.0L1773.9,1432.6L1774.3,1430.1L1774.8,1427.7L1775.2,1425.2L1775.6,1422.8L1776.1,1420.4L1776.5,1417.9L1777.0,1415.5L1777.4,1413.0L1777.9,1410.6L1778.3,1408.1L1778.8,1405.7L1779.3,1403.3L1779.7,1400.8L1780.2,1398.4L1780.6,1395.9L1781.1,1393.5L1781.5,1391.1L1782.0,1388.6L1782.4,1386.2L1782.9,1383.7L1783.3,1381.3L1783.8,1378.8L1784.3,1376.4L1784.7,1374.0L1785.2,1371.5L1785.6,1369.1L1786.1,1366.6L1786.6,1364.2L1787.0,1361.7L1787.5,1359.3L1787.9,1356.8L1788.4,1354.3L1788.9,1351.9L1789.3,1349.4L1789.8,1346.9L1790.3,1344.5L1790.8,1342.0L1791.3,1339.5L1791.8,1337.0L1792.3,1334.4L1792.8,1331.9L1793.4,1329.4L1793.9,1326.8L1794.5,1324.2L1795.1,1321.6L1795.7,1319.0L1796.3,1316.4L1796.9,1313.8L1797.5,1311.2L1798.2,1308.6L1798.9,1306.1L1799.5,1303.6L1800.2,1301.2L1800.9,1298.8L1801.6,1296.6L1802.3,1294.7L1803.0,1293.1L1803.7,1291.9L1804.4,1291.1L1805.1,1290.8L1805.7,1290.9L1806.4,1291.6L1807.1,1292.7L1807.8,1294.1L1808.4,1295.9L1809.1,1297.9L1809.7,1300.1L1810.4,1302.4L1811.0,1304.9L1811.6,1307.4L1812.2,1310.0L1812.7,1312.6L1813.3,1315.3L1813.8,1317.9L1814.3,1320.6L1814.8,1323.2L1815.3,1325.8L1815.7,1328.4L1816.2,1331.0L1816.6,1333.5L1817.0,1336.0L1817.3,1338.5L1817.7,1341.0L1818.1,1343.5L1818.4,1346.0L1818.7,1348.5L1819.1,1350.9L1819.4,1353.4L1819.7,1355.9L1820.0,1358.3L1820.3,1360.8L1820.6,1363.2L1820.9,1365.7L1821.2,1368.2L1821.5,1370.6L1821.7,1373.1L1822.0,1375.6L1822.3,1378.0L1822.6,1380.5L1822.8,1383.0L1823.1,1385.4L1823.4,1387.9L1823.6,1390.4L1823.9,1392.9L1824.1,1395.3L1824.4,1397.8L1824.7,1400.3L1824.9,1402.8L1825.1,1405.3L1825.4,1407.7L1825.6,1410.2L1825.9,1412.7L1826.1,1415.2L1826.4,1417.7L1826.6,1420.2L1826.8,1422.7L1827.1,1425.1L1827.3,1427.6L1827.5,1430.1L1827.8,1432.6L1828.0,1435.1L1828.2,1437.6L1828.5,1440.1L1828.7,1442.6L1828.9,1445.1L1829.2,1447.6L1829.4,1450.1L1829.6,1452.5L1829.9,1455.0L1830.1,1457.5L1830.4,1460.0L1830.6,1462.5L1830.8,1465.0L1831.1,1467.5L1831.3,1470.0L1831.5,1472.5L1831.8,1475.0L1832.0,1477.5L1832.3,1480.0L1832.5,1482.5L1832.8,1485.0L1833.0,1487.5L1833.3,1490.0L1833.5,1492.5L1833.8,1495.0L1834.0,1497.4L1834.3,1499.9L1834.6,1502.4L1834.8,1504.9L1835.1,1507.4L1835.4,1509.9L1835.7,1512.4L1835.9,1514.9L1836.2,1517.4L1836.5,1519.9L1836.8,1522.4L1837.1,1524.9L1837.4,1527.3L1837.7,1529.8L1838.0,1532.3L1838.3,1534.8L1838.6,1537.3L1838.9,1539.8L1839.2,1542.3L1839.5,1544.7L1839.8,1547.2L1840.2,1549.7L1840.5,1552.2L1840.8,1554.6L1841.1,1557.1L1841.5,1559.6L1841.8,1562.1L1842.2,1564.5L1842.5,1567.0L1842.8,1569.5L1843.2,1571.9L1843.5,1574.4L1843.9,1576.8L1844.2,1579.3L1844.6,1581.8L1844.9,1584.2L1845.3,1586.7L1845.7,1589.1L1846.0,1591.6L1846.4,1594.0L1846.8,1596.4L1847.1,1598.9L1847.5,1601.3L1847.9,1603.8L1848.3,1606.2L1848.8,1608.6L1849.2,1611.1L1849.7,1613.5L1850.2,1616.0L1850.7,1618.4L1851.3,1620.9L1851.9,1623.3L1852.5,1625.8L1853.1,1628.3L1853.8,1630.8L1854.6,1633.3L1855.4,1635.8L1856.2,1638.3L1857.1,1640.7L1858.0,1643.2L1859.0,1645.6L1860.0,1648.0L1861.1,1650.4L1862.3,1652.7L1863.5,1655.0L1864.7,1657.2L1866.0,1659.3L1867.4,1661.3L1868.9,1663.3L1870.4,1665.2L1871.9,1667.0L1873.5,1668.6L1875.2,1670.2L1877.0,1671.7L1878.8,1673.1L1880.7,1674.5L1882.6,1675.7L1884.6,1676.8L1886.6,1677.9L1888.6,1678.9L1890.8,1679.8L1892.9,1680.7L1895.1,1681.4L1897.4,1682.2L1899.6,1682.8L1902.0,1683.4L1904.3,1683.9L1906.7,1684.3L1909.1,1684.7L1911.5,1685.1L1914.0,1685.4L1916.5,1685.7L1919.0,1686.0L1921.5,1686.2L1924.1,1686.4L1926.6,1686.6L1929.2,1686.7L1931.7,1686.9L1934.3,1687.0L1936.9,1687.2L1939.5,1687.3L1942.0,1687.5L1944.6,1687.7L1947.2,1687.8L1949.8,1688.0L1952.3,1688.2L1954.9,1688.3L1957.5,1688.5L1960.0,1688.7L1962.6,1688.9L1965.1,1689.1L1967.7,1689.3L1970.2,1689.4L1972.7,1689.6L1975.3,1689.8L1977.8,1690.0L1980.3,1690.2L1982.8,1690.4L1985.3,1690.6L1987.8,1690.8L1990.3,1691.0L1992.8,1691.2L1995.3,1691.4L1997.8,1691.5L2000.2,1691.7L2002.7,1691.9L2005.2,1692.1L2007.7,1692.3L2010.1,1692.5L2012.6,1692.6L2015.1,1692.8L2017.6,1693.0L2020.1,1693.1L2022.5,1693.3L2025.0,1693.4L2027.5,1693.6L2030.0,1693.7L2032.5,1693.9L2034.9,1694.0L2037.4,1694.2L2039.9,1694.3L2042.4,1694.4L2044.9,1694.5L2047.4,1694.7L2049.9,1694.8L2052.4,1694.9L2054.8,1695.0L2057.3,1695.1L2059.8,1695.2L2062.3,1695.3L2064.8,1695.4L2067.3,1695.5L2069.8,1695.6L2072.3,1695.7L2074.8,1695.8L2077.3,1695.9L2079.8,1696.0L2082.3,1696.1L2084.8,1696.2L2087.3,1696.2L2089.8,1696.3L2092.3,1696.4L2094.8,1696.5L2097.3,1696.5L2099.8,1696.6L2102.3,1696.7L2104.8,1696.7L2107.3,1696.8L2109.8,1696.9L2112.3,1696.9L2114.8,1697.0L2117.3,1697.0L2119.8,1697.1L2122.3,1697.1L2124.8,1697.2L2127.3,1697.2L2129.8,1697.2L2132.3,1697.3L2134.8,1697.3L2137.3,1697.4L2139.9,1697.4L2142.4,1697.4L2144.9,1697.5L2147.4,1697.5L2149.9,1697.5L2152.4,1697.6L2154.9,1697.6L2157.4,1697.6L2159.9,1697.6L2162.4,1697.7L2164.9,1697.7L2167.4,1697.7L2169.9,1697.7L2172.4,1697.8L2174.9,1697.8L2177.4,1697.8L2179.9,1697.8L2182.4,1697.8L2184.9,1697.9L2187.4,1697.9L2189.9,1697.9L2192.4,1697.9L2194.9,1697.9L2197.4,1697.9L2199.9,1698.0L2202.4,1698.0L2204.9,1698.0L2207.4,1698.0L2209.9,1698.0L2212.4,1698.0L2214.9,1698.0L2217.4,1698.0L2219.9,1698.1L2222.4,1698.1L2224.9,1698.1L2227.4,1698.1L2229.9,1698.1L2232.4,1698.1L2234.9,1698.1L2237.4,1698.1L2239.9,1698.2L2242.4,1698.2L2244.9,1698.2L2247.4,1698.2L2249.9,1698.2L2252.4,1698.2L2254.9,1698.2L2257.4,1698.3L2259.9,1698.3L2262.4,1698.3L2264.9,1698.3L2267.4,1698.3L2270.0,1698.4L2272.5,1698.4L2275.0,1698.4L2277.5,1698.4L2280.0,1698.4L2282.5,1698.5L2285.0,1698.5L2287.5,1698.5L2290.0,1698.6L2292.5,1698.6L2295.0,1698.6L2297.5,1698.7L2300.0,1698.7L2302.5,1698.7L2305.0,1698.8L2307.5,1698.8L2310.0,1698.8L2312.5,1698.9L2315.0,1698.9L2317.5,1699.0L2320.0,1699.0L2322.5,1699.1L2325.0,1699.1L2327.5,1699.2L2330.0,1699.2" fill="none" stroke="#0000ff" stroke-width="15" stroke-linecap="round" stroke-linejoin="round" clip-path="url(#cb)"/>
<path d="M445.7,1721.1L448.2,1719.7L450.6,1718.4L453.1,1717.2L455.6,1716.1L458.1,1715.1L460.6,1714.1L463.1,1713.3L465.5,1712.5L468.0,1711.8L470.5,1711.1L473.0,1710.5L475.5,1710.0L478.0,1709.5L480.5,1709.1L482.9,1708.8L485.4,1708.5L487.9,1708.2L490.4,1708.0L492.9,1707.8L495.4,1707.7L497.9,1707.6L500.4,1707.5L502.8,1707.4L505.3,1707.4L507.8,1707.3L510.3,1707.3L512.8,1707.3L515.3,1707.3L517.8,1707.4L520.3,1707.4L522.8,1707.4L525.2,1707.4L527.7,1707.4L530.2,1707.4L532.7,1707.4L535.2,1707.4L537.7,1707.4L540.2,1707.4L542.7,1707.3L545.2,1707.3L547.7,1707.3L550.2,1707.3L552.6,1707.2L555.1,1707.2L557.6,1707.2L560.1,1707.2L562.6,1707.1L565.1,1707.1L567.6,1707.1L570.1,1707.0L572.6,1707.0L575.1,1706.9L577.6,1706.9L580.1,1706.9L582.6,1706.8L585.1,1706.8L587.6,1706.8L590.1,1706.7L592.6,1706.7L595.0,1706.6L597.5,1706.6L600.0,1706.6L602.5,1706.5L605.0,1706.5L607.5,1706.5L610.0,1706.4L612.5,1706.4L615.0,1706.4L617.5,1706.4L620.0,1706.3L622.5,1706.3L625.0,1706.3L627.5,1706.2L630.0,1706.2L632.5,1706.2L635.0,1706.2L637.5,1706.2L640.0,1706.1L642.5,1706.1L645.0,1706.1L647.5,1706.1L650.0,1706.0L652.5,1706.0L655.0,1706.0L657.5,1706.0L660.0,1706.0L662.5,1705.9L665.0,1705.9L667.5,1705.9L670.0,1705.9L672.5,1705.9L675.0,1705.9L677.5,1705.8L680.0,1705.8L682.5,1705.8L685.0,1705.8L687.5,1705.8L690.0,1705.8L692.5,1705.7L695.0,1705.7L697.5,1705.7L700.0,1705.7L702.5,1705.7L705.0,1705.7L707.5,1705.7L710.0,1705.6L712.5,1705.6L715.0,1705.6L717.5,1705.6L720.0,1705.6L722.5,1705.6L725.0,1705.6L727.5,1705.5L730.0,1705.5L732.5,1705.5L735.0,1705.5L737.5,1705.5L740.0,1705.5L742.5,1705.5L745.0,1705.4L747.5,1705.4L750.0,1705.4L752.5,1705.4L755.0,1705.4L757.5,1705.4L760.0,1705.3L762.6,1705.3L765.1,1705.3L767.6,1705.3L770.1,1705.3L772.6,1705.3L775.1,1705.2L777.6,1705.2L780.1,1705.2L782.6,1705.2L785.1,1705.2L787.6,1705.1L790.1,1705.1L792.6,1705.1L795.1,1705.1L797.6,1705.1L800.1,1705.1L802.6,1705.0L805.1,1705.0L807.6,1705.0L810.1,1705.0L812.6,1705.0L815.1,1704.9L817.6,1704.9L820.1,1704.9L822.6,1704.9L825.2,1704.9L827.7,1704.8L830.2,1704.8L832.7,1704.8L835.2,1704.8L837.7,1704.8L840.2,1704.7L842.7,1704.7L845.2,1704.7L847.7,1704.7L850.2,1704.6L852.7,1704.6L855.2,1704.6L857.7,1704.6L860.2,1704.6L862.7,1704.5L865.2,1704.5L867.7,1704.5L870.2,1704.5L872.7,1704.5L875.2,1704.4L877.7,1704.4L880.3,1704.4L882.8,1704.4L885.3,1704.4L887.8,1704.3L890.3,1704.3L892.8,1704.3L895.3,1704.3L897.8,1704.3L900.3,1704.2L902.8,1704.2L905.3,1704.2L907.8,1704.2L910.3,1704.2L912.8,1704.1L915.3,1704.1L917.8,1704.1L920.3,1704.1L922.8,1704.1L925.3,1704.0L927.8,1704.0L930.3,1704.0L932.8,1704.0L935.4,1704.0L937.9,1703.9L940.4,1703.9L942.9,1703.9L945.4,1703.9L947.9,1703.9L950.4,1703.9L952.9,1703.8L955.4,1703.8L957.9,1703.8L960.4,1703.8L962.9,1703.8L965.4,1703.7L967.9,1703.7L970.4,1703.7L972.9,1703.7L975.4,1703.7L977.9,1703.7L980.4,1703.6L982.9,1703.6L985.4,1703.6L987.9,1703.6L990.4,1703.6L992.9,1703.6L995.4,1703.6L997.9,1703.5L1000.4,1703.5L1002.9,1703.5L1005.4,1703.5L1007.9,1703.5L1010.4,1703.5L1012.9,1703.5L1015.4,1703.5L1018.0,1703.4L1020.5,1703.4L1023.0,1703.4L1025.5,1703.4L1028.0,1703.4L1030.5,1703.4L1033.0,1703.4L1035.5,1703.4L1038.0,1703.4L1040.5,1703.4L1043.0,1703.3L1045.5,1703.3L1048.0,1703.3L1050.5,1703.3L1053.0,1703.3L1055.5,1703.3L1058.0,1703.3L1060.5,1703.3L1063.0,1703.3L1065.5,1703.3L1068.0,1703.3L1070.5,1703.3L1073.0,1703.3L1075.5,1703.3L1078.0,1703.3L1080.5,1703.3L1083.0,1703.3L1085.5,1703.3L1088.0,1703.3L1090.5,1703.3L1093.0,1703.2L1095.5,1703.2L1098.0,1703.2L1100.5,1703.2L1103.0,1703.2L1105.4,1703.2L1107.9,1703.2L1110.4,1703.2L1112.9,1703.2L1115.4,1703.2L1117.9,1703.2L1120.4,1703.2L1122.9,1703.2L1125.4,1703.2L1127.9,1703.2L1130.4,1703.2L1132.9,1703.2L1135.4,1703.2L1137.9,1703.2L1140.4,1703.2L1142.9,1703.2L1145.4,1703.2L1147.9,1703.2L1150.4,1703.2L1152.9,1703.2L1155.4,1703.2L1157.9,1703.3L1160.4,1703.3L1162.9,1703.3L1165.4,1703.3L1167.9,1703.3L1170.4,1703.3L1172.9,1703.3L1175.4,1703.3L1177.9,1703.3L1180.4,1703.3L1182.9,1703.3L1185.4,1703.3L1187.9,1703.3L1190.4,1703.3L1192.9,1703.3L1195.4,1703.3L1197.9,1703.3L1200.4,1703.3L1202.9,1703.3L1205.4,1703.3L1207.9,1703.3L1210.4,1703.3L1212.9,1703.3L1215.4,1703.3L1217.9,1703.3L1220.4,1703.3L1222.9,1703.3L1225.4,1703.3L1227.9,1703.3L1230.4,1703.3L1232.9,1703.3L1235.4,1703.3L1237.9,1703.3L1240.4,1703.3L1242.9,1703.3L1245.4,1703.3L1247.9,1703.3L1250.4,1703.3L1252.9,1703.3L1255.4,1703.2L1257.9,1703.2L1260.4,1703.2L1262.9,1703.2L1265.4,1703.2L1267.9,1703.2L1270.4,1703.2L1272.9,1703.2L1275.4,1703.2L1277.9,1703.2L1280.4,1703.2L1282.9,1703.2L1285.4,1703.2L1287.9,1703.2L1290.4,1703.2L1292.9,1703.2L1295.4,1703.1L1297.9,1703.1L1300.4,1703.1L1303.0,1703.1L1305.5,1703.1L1308.0,1703.1L1310.5,1703.1L1313.0,1703.1L1315.5,1703.1L1318.0,1703.0L1320.5,1703.0L1323.0,1703.0L1325.5,1703.0L1328.0,1703.0L1330.5,1703.0L1333.0,1703.0L1335.5,1702.9L1338.0,1702.9L1340.5,1702.9L1343.1,1702.9L1345.6,1702.9L1348.1,1702.9L1350.6,1702.8L1353.1,1702.8L1355.6,1702.8L1358.1,1702.8L1360.6,1702.7L1363.1,1702.7L1365.6,1702.7L1368.2,1702.7L1370.7,1702.7L1373.2,1702.6L1375.7,1702.6L1378.2,1702.6L1380.7,1702.6L1383.2,1702.5L1385.7,1702.5L1388.2,1702.5L1390.8,1702.5L1393.3,1702.4L1395.8,1702.4L1398.3,1702.4L1400.8,1702.4L1403.3,1702.3L1405.8,1702.3L1408.3,1702.3L1410.9,1702.2L1413.4,1702.2L1415.9,1702.2L1418.4,1702.2L1420.9,1702.2L1423.4,1702.1L1425.9,1702.1L1428.4,1702.1L1430.9,1702.1L1433.4,1702.0L1435.9,1702.0L1438.5,1702.0L1441.0,1702.0L1443.5,1702.0L1446.0,1701.9L1448.5,1701.9L1451.0,1701.9L1453.5,1701.9L1456.0,1701.9L1458.5,1701.9L1461.0,1701.9L1463.5,1701.8L1466.0,1701.8L1468.5,1701.8L1471.0,1701.8L1473.5,1701.8L1476.0,1701.8L1478.5,1701.8L1481.0,1701.8L1483.5,1701.8L1486.0,1701.8L1488.5,1701.8L1491.0,1701.8L1493.5,1701.8L1496.0,1701.8L1498.5,1701.8L1500.9,1701.8L1503.4,1701.8L1505.9,1701.8L1508.4,1701.8L1510.9,1701.9L1513.4,1701.9L1515.9,1701.9L1518.3,1701.9L1520.8,1701.9L1523.3,1701.9L1525.8,1701.8L1528.3,1701.8L1530.7,1701.8L1533.2,1701.7L1535.7,1701.6L1538.1,1701.5L1540.6,1701.4L1543.1,1701.3L1545.5,1701.1L1548.0,1701.0L1550.4,1700.8L1552.9,1700.6L1555.3,1700.3L1557.7,1700.0L1560.2,1699.7L1562.6,1699.4L1565.0,1699.0L1567.5,1698.6L1569.9,1698.1L1572.3,1697.6L1574.7,1697.1L1577.1,1696.5L1579.5,1695.9L1581.9,1695.3L1584.3,1694.6L1586.7,1693.9L1589.0,1693.1L1591.4,1692.3L1593.8,1691.5L1596.2,1690.6L1598.5,1689.7L1600.9,1688.8L1603.2,1687.8L1605.5,1686.8L1607.9,1685.8L1610.2,1684.7L1612.5,1683.7L1614.8,1682.6L1617.1,1681.5L1619.4,1680.3L1621.7,1679.2L1624.0,1678.0L1626.3,1676.8L1628.5,1675.6L1630.8,1674.4L1633.1,1673.2L1635.3,1671.9L1637.5,1670.7L1639.8,1669.4L1642.0,1668.2L1644.2,1666.9L1646.4,1665.6L1648.6,1664.3L1650.8,1663.0L1652.9,1661.7L1655.1,1660.4L1657.2,1659.1L1659.4,1657.8L1661.5,1656.4L1663.6,1655.1L1665.7,1653.7L1667.7,1652.3L1669.8,1650.9L1671.8,1649.5L1673.8,1648.0L1675.8,1646.6L1677.8,1645.1L1679.8,1643.6L1681.7,1642.1L1683.6,1640.6L1685.5,1639.0L1687.3,1637.4L1689.2,1635.8L1691.0,1634.2L1692.8,1632.5L1694.5,1630.8L1696.3,1629.1L1698.0,1627.4L1699.6,1625.6L1701.3,1623.8L1702.9,1622.0L1704.4,1620.1L1706.0,1618.2L1707.5,1616.3L1709.0,1614.4L1710.4,1612.4L1711.9,1610.4L1713.3,1608.3L1714.6,1606.3L1716.0,1604.2L1717.3,1602.1L1718.6,1600.0L1719.8,1597.8L1721.0,1595.6L1722.2,1593.4L1723.4,1591.2L1724.6,1589.0L1725.7,1586.8L1726.8,1584.5L1727.9,1582.3L1729.0,1580.0L1730.0,1577.7L1731.1,1575.4L1732.1,1573.1L1733.1,1570.7L1734.0,1568.4L1735.0,1566.1L1735.9,1563.7L1736.8,1561.4L1737.7,1559.0L1738.6,1556.7L1739.5,1554.3L1740.3,1552.0L1741.2,1549.6L1742.0,1547.3L1742.8,1544.9L1743.6,1542.6L1744.4,1540.2L1745.1,1537.8L1745.9,1535.5L1746.6,1533.1L1747.4,1530.7L1748.1,1528.3L1748.8,1526.0L1749.5,1523.6L1750.2,1521.2L1750.9,1518.8L1751.5,1516.5L1752.2,1514.1L1752.9,1511.7L1753.5,1509.3L1754.2,1506.9L1754.8,1504.5L1755.5,1502.1L1756.1,1499.7L1756.7,1497.3L1757.4,1494.9L1758.0,1492.5L1758.6,1490.1L1759.2,1487.7L1759.8,1485.3L1760.5,1482.9L1761.1,1480.5L1761.7,1478.1L1762.3,1475.7L1762.9,1473.3L1763.5,1470.9L1764.1,1468.5L1764.8,1466.0L1765.4,1463.6L1766.0,1461.2L1766.6,1458.8L1767.3,1456.4L1767.9,1453.9L1768.6,1451.5L1769.2,1449.1L1769.9,1446.6L1770.5,1444.2L1771.2,1441.8L1771.9,1439.3L1772.5,1436.9L1773.2,1434.4L1773.9,1432.0L1774.7,1429.6L1775.4,1427.1L1776.1,1424.7L1776.8,1422.2L1777.6,1419.8L1778.4,1417.3L1779.1,1414.9L1779.9,1412.4L1780.7,1409.9L1781.5,1407.5L1782.3,1405.0L1783.1,1402.6L1783.9,1400.2L1784.7,1397.7L1785.5,1395.3L1786.3,1392.9L1787.1,1390.5L1787.9,1388.1L1788.6,1385.7L1789.4,1383.3L1790.1,1380.9L1790.9,1378.6L1791.6,1376.3L1792.3,1373.9L1793.0,1371.6L1793.7,1369.4L1794.5,1367.1L1795.2,1364.9L1795.9,1362.6L1796.7,1360.5L1797.4,1358.3L1798.2,1356.1L1799.0,1354.0L1799.8,1351.9L1800.6,1349.9L1801.4,1348.1L1802.2,1346.5L1803.1,1345.3L1803.9,1344.5L1804.7,1344.1L1805.5,1344.3L1806.4,1345.1L1807.1,1346.3L1807.9,1348.0L1808.7,1350.1L1809.4,1352.4L1810.1,1354.9L1810.7,1357.5L1811.3,1360.1L1811.9,1362.8L1812.5,1365.4L1813.0,1368.0L1813.4,1370.5L1813.9,1373.1L1814.3,1375.7L1814.7,1378.2L1815.1,1380.8L1815.5,1383.3L1815.9,1385.8L1816.2,1388.3L1816.6,1390.8L1816.9,1393.4L1817.3,1395.9L1817.6,1398.4L1818.0,1400.9L1818.4,1403.4L1818.7,1405.9L1819.1,1408.4L1819.5,1410.9L1819.9,1413.4L1820.2,1415.8L1820.6,1418.3L1821.0,1420.8L1821.4,1423.3L1821.7,1425.8L1822.1,1428.3L1822.5,1430.8L1822.9,1433.2L1823.3,1435.7L1823.6,1438.2L1824.0,1440.7L1824.4,1443.1L1824.8,1445.6L1825.2,1448.1L1825.6,1450.5L1825.9,1453.0L1826.3,1455.5L1826.7,1458.0L1827.1,1460.4L1827.5,1462.9L1827.9,1465.3L1828.2,1467.8L1828.6,1470.3L1829.0,1472.7L1829.4,1475.2L1829.7,1477.7L1830.1,1480.1L1830.5,1482.6L1830.9,1485.1L1831.2,1487.5L1831.6,1490.0L1832.0,1492.4L1832.3,1494.9L1832.7,1497.4L1833.1,1499.8L1833.4,1502.3L1833.8,1504.8L1834.1,1507.2L1834.5,1509.7L1834.8,1512.2L1835.2,1514.6L1835.5,1517.1L1835.8,1519.6L1836.2,1522.0L1836.5,1524.5L1836.8,1527.0L1837.2,1529.4L1837.5,1531.9L1837.8,1534.4L1838.1,1536.9L1838.4,1539.3L1838.7,1541.8L1839.0,1544.3L1839.3,1546.8L1839.6,1549.3L1839.9,1551.7L1840.2,1554.2L1840.5,1556.7L1840.8,1559.2L1841.1,1561.7L1841.4,1564.2L1841.6,1566.7L1841.9,1569.2L1842.2,1571.6L1842.5,1574.1L1842.8,1576.6L1843.1,1579.1L1843.4,1581.6L1843.8,1584.1L1844.1,1586.6L1844.4,1589.1L1844.7,1591.6L1845.1,1594.0L1845.4,1596.5L1845.8,1599.0L1846.2,1601.5L1846.5,1604.0L1846.9,1606.5L1847.3,1608.9L1847.7,1611.4L1848.1,1613.9L1848.6,1616.4L1849.0,1618.8L1849.5,1621.3L1850.0,1623.8L1850.5,1626.3L1851.0,1628.7L1851.5,1631.2L1852.1,1633.6L1852.8,1636.0L1853.5,1638.5L1854.2,1640.9L1855.0,1643.2L1855.8,1645.6L1856.7,1648.0L1857.7,1650.3L1858.8,1652.6L1859.9,1654.9L1861.2,1657.2L1862.5,1659.4L1863.9,1661.6L1865.4,1663.7L1867.0,1665.8L1868.7,1667.7L1870.4,1669.5L1872.2,1671.1L1874.1,1672.5L1876.0,1673.8L1878.0,1674.8L1880.0,1675.7L1882.1,1676.5L1884.2,1677.2L1886.3,1677.8L1888.5,1678.4L1890.7,1679.0L1893.0,1679.6L1895.3,1680.2L1897.6,1680.8L1899.9,1681.3L1902.3,1681.8L1904.6,1682.3L1907.0,1682.8L1909.5,1683.3L1911.9,1683.8L1914.3,1684.3L1916.8,1684.7L1919.3,1685.1L1921.8,1685.5L1924.3,1685.9L1926.8,1686.3L1929.4,1686.7L1931.9,1687.1L1934.5,1687.4L1937.0,1687.8L1939.6,1688.1L1942.2,1688.5L1944.7,1688.8L1947.3,1689.1L1949.9,1689.4L1952.4,1689.6L1955.0,1689.9L1957.5,1690.2L1960.1,1690.4L1962.6,1690.7L1965.2,1690.9L1967.7,1691.1L1970.2,1691.4L1972.7,1691.6L1975.3,1691.8L1977.8,1692.0L1980.3,1692.2L1982.8,1692.3L1985.3,1692.5L1987.8,1692.7L1990.3,1692.8L1992.8,1693.0L1995.3,1693.2L1997.7,1693.3L2000.2,1693.4L2002.7,1693.6L2005.2,1693.7L2007.7,1693.8L2010.1,1693.9L2012.6,1694.1L2015.1,1694.2L2017.6,1694.3L2020.0,1694.4L2022.5,1694.5L2025.0,1694.6L2027.5,1694.7L2029.9,1694.8L2032.4,1694.9L2034.9,1695.0L2037.4,1695.1L2039.9,1695.1L2042.3,1695.2L2044.8,1695.3L2047.3,1695.4L2049.8,1695.5L2052.3,1695.5L2054.8,1695.6L2057.3,1695.7L2059.7,1695.8L2062.2,1695.8L2064.7,1695.9L2067.2,1696.0L2069.7,1696.0L2072.2,1696.1L2074.7,1696.1L2077.2,1696.2L2079.7,1696.3L2082.2,1696.3L2084.7,1696.4L2087.2,1696.4L2089.7,1696.5L2092.2,1696.5L2094.7,1696.6L2097.2,1696.6L2099.7,1696.7L2102.2,1696.7L2104.7,1696.7L2107.2,1696.8L2109.7,1696.8L2112.2,1696.9L2114.7,1696.9L2117.2,1696.9L2119.7,1697.0L2122.2,1697.0L2124.7,1697.0L2127.2,1697.1L2129.7,1697.1L2132.2,1697.1L2134.7,1697.1L2137.2,1697.2L2139.7,1697.2L2142.2,1697.2L2144.7,1697.2L2147.3,1697.3L2149.8,1697.3L2152.3,1697.3L2154.8,1697.3L2157.3,1697.3L2159.8,1697.4L2162.3,1697.4L2164.8,1697.4L2167.3,1697.4L2169.8,1697.4L2172.3,1697.4L2174.8,1697.4L2177.4,1697.5L2179.9,1697.5L2182.4,1697.5L2184.9,1697.5L2187.4,1697.5L2189.9,1697.5L2192.4,1697.5L2194.9,1697.5L2197.4,1697.5L2199.9,1697.5L2202.4,1697.6L2205.0,1697.6L2207.5,1697.6L2210.0,1697.6L2212.5,1697.6L2215.0,1697.6L2217.5,1697.6L2220.0,1697.6L2222.5,1697.6L2225.0,1697.6L2227.5,1697.6L2230.0,1697.6L2232.5,1697.6L2235.0,1697.6L2237.5,1697.6L2240.0,1697.6L2242.5,1697.6L2245.1,1697.6L2247.6,1697.7L2250.1,1697.7L2252.6,1697.7L2255.1,1697.7L2257.6,1697.7L2260.1,1697.7L2262.6,1697.7L2265.1,1697.7L2267.6,1697.7L2270.1,1697.7L2272.6,1697.7L2275.1,1697.7L2277.5,1697.7L2280.0,1697.7L2282.5,1697.7L2285.0,1697.8L2287.5,1697.8L2290.0,1697.8L2292.5,1697.8L2295.0,1697.8L2297.5,1697.8L2300.0,1697.8L2302.5,1697.8L2305.0,1697.9L2307.4,1697.9L2309.9,1697.9L2312.4,1697.9L2314.9,1697.9L2317.4,1697.9L2319.9,1698.0L2322.3,1698.0L2324.8,1698.0L2327.3,1698.0L2329.8,1698.0" fill="none" stroke="#c90404" stroke-width="15" stroke-linecap="round" stroke-linejoin="round" clip-path="url(#cb)"/>
<path d="M447.3,1705.2L449.8,1705.2L452.3,1705.2L454.8,1705.2L457.3,1705.3L459.9,1705.3L462.4,1705.3L464.9,1705.3L467.4,1705.3L469.9,1705.3L472.4,1705.3L474.9,1705.3L477.4,1705.3L479.9,1705.3L482.5,1705.3L485.0,1705.3L487.5,1705.3L490.0,1705.3L492.5,1705.3L495.0,1705.3L497.5,1705.3L500.0,1705.3L502.5,1705.3L505.0,1705.3L507.6,1705.3L510.1,1705.3L512.6,1705.3L515.1,1705.3L517.6,1705.3L520.1,1705.2L522.6,1705.2L525.1,1705.2L527.6,1705.2L530.1,1705.2L532.6,1705.2L535.1,1705.2L537.6,1705.2L540.2,1705.2L542.7,1705.2L545.2,1705.2L547.7,1705.2L550.2,1705.2L552.7,1705.2L555.2,1705.2L557.7,1705.2L560.2,1705.2L562.7,1705.2L565.2,1705.2L567.7,1705.2L570.2,1705.2L572.7,1705.2L575.2,1705.2L577.7,1705.2L580.2,1705.2L582.7,1705.2L585.3,1705.2L587.8,1705.1L590.3,1705.1L592.8,1705.1L595.3,1705.1L597.8,1705.1L600.3,1705.1L602.8,1705.1L605.3,1705.1L607.8,1705.1L610.3,1705.1L612.8,1705.1L615.3,1705.1L617.8,1705.1L620.3,1705.1L622.8,1705.1L625.3,1705.1L627.8,1705.1L630.3,1705.0L632.8,1705.0L635.3,1705.0L637.8,1705.0L640.3,1705.0L642.8,1705.0L645.3,1705.0L647.8,1705.0L650.3,1705.0L652.8,1705.0L655.3,1705.0L657.8,1705.0L660.3,1705.0L662.8,1705.0L665.3,1704.9L667.8,1704.9L670.3,1704.9L672.8,1704.9L675.3,1704.9L677.8,1704.9L680.3,1704.9L682.9,1704.9L685.4,1704.9L687.9,1704.9L690.4,1704.9L692.9,1704.9L695.4,1704.8L697.9,1704.8L700.4,1704.8L702.9,1704.8L705.4,1704.8L707.9,1704.8L710.4,1704.8L712.9,1704.8L715.4,1704.8L717.9,1704.8L720.4,1704.8L722.9,1704.8L725.4,1704.7L727.9,1704.7L730.4,1704.7L732.9,1704.7L735.4,1704.7L737.9,1704.7L740.4,1704.7L742.9,1704.7L745.4,1704.7L747.9,1704.7L750.4,1704.7L752.9,1704.6L755.4,1704.6L757.9,1704.6L760.4,1704.6L762.9,1704.6L765.4,1704.6L767.9,1704.6L770.4,1704.6L772.9,1704.6L775.4,1704.6L777.9,1704.6L780.4,1704.5L782.9,1704.5L785.4,1704.5L787.9,1704.5L790.4,1704.5L792.9,1704.5L795.4,1704.5L797.8,1704.5L800.3,1704.5L802.8,1704.5L805.3,1704.5L807.8,1704.4L810.3,1704.4L812.8,1704.4L815.3,1704.4L817.8,1704.4L820.3,1704.4L822.8,1704.4L825.3,1704.4L827.8,1704.4L830.3,1704.4L832.8,1704.4L835.3,1704.4L837.8,1704.3L840.3,1704.3L842.8,1704.3L845.3,1704.3L847.8,1704.3L850.3,1704.3L852.8,1704.3L855.3,1704.3L857.8,1704.3L860.3,1704.3L862.8,1704.3L865.3,1704.3L867.8,1704.2L870.3,1704.2L872.8,1704.2L875.3,1704.2L877.8,1704.2L880.3,1704.2L882.8,1704.2L885.3,1704.2L887.8,1704.2L890.3,1704.2L892.8,1704.2L895.3,1704.2L897.8,1704.2L900.3,1704.2L902.8,1704.1L905.3,1704.1L907.8,1704.1L910.4,1704.1L912.9,1704.1L915.4,1704.1L917.9,1704.1L920.4,1704.1L922.9,1704.1L925.4,1704.1L927.9,1704.1L930.4,1704.1L932.9,1704.1L935.4,1704.1L937.9,1704.1L940.4,1704.0L942.9,1704.0L945.4,1704.0L947.9,1704.0L950.4,1704.0L952.9,1704.0L955.4,1704.0L957.9,1704.0L960.4,1704.0L962.9,1704.0L965.4,1704.0L967.9,1704.0L970.4,1704.0L972.9,1704.0L975.4,1704.0L977.9,1704.0L980.4,1704.0L982.9,1704.0L985.4,1704.0L987.9,1704.0L990.4,1704.0L992.9,1704.0L995.4,1704.0L997.9,1703.9L1000.4,1703.9L1002.9,1703.9L1005.4,1703.9L1008.0,1703.9L1010.5,1703.9L1013.0,1703.9L1015.5,1703.9L1018.0,1703.9L1020.5,1703.9L1023.0,1703.9L1025.5,1703.9L1028.0,1703.9L1030.5,1703.9L1033.0,1703.9L1035.5,1703.9L1038.0,1703.9L1040.5,1703.9L1043.0,1703.9L1045.5,1703.9L1048.0,1703.9L1050.5,1703.9L1053.1,1703.9L1055.6,1703.9L1058.1,1703.9L1060.6,1703.9L1063.1,1703.9L1065.6,1703.9L1068.1,1703.9L1070.6,1703.9L1073.1,1703.9L1075.6,1703.9L1078.1,1703.9L1080.6,1703.9L1083.1,1703.9L1085.6,1703.9L1088.2,1703.9L1090.7,1703.9L1093.2,1703.9L1095.7,1703.9L1098.2,1703.9L1100.7,1703.9L1103.2,1703.9L1105.7,1703.9L1108.2,1703.9L1110.7,1703.9L1113.2,1703.9L1115.7,1703.9L1118.2,1703.9L1120.7,1703.9L1123.3,1703.9L1125.8,1703.9L1128.3,1703.9L1130.8,1703.9L1133.3,1703.9L1135.8,1703.9L1138.3,1703.9L1140.8,1703.8L1143.3,1703.8L1145.8,1703.8L1148.3,1703.8L1150.8,1703.8L1153.4,1703.8L1155.9,1703.8L1158.4,1703.8L1160.9,1703.8L1163.4,1703.8L1165.9,1703.8L1168.4,1703.8L1170.9,1703.8L1173.4,1703.8L1175.9,1703.8L1178.4,1703.8L1180.9,1703.8L1183.4,1703.7L1185.9,1703.7L1188.5,1703.7L1191.0,1703.7L1193.5,1703.7L1196.0,1703.7L1198.5,1703.7L1201.0,1703.7L1203.5,1703.7L1206.0,1703.7L1208.5,1703.6L1211.0,1703.6L1213.5,1703.6L1216.0,1703.6L1218.5,1703.6L1221.0,1703.6L1223.6,1703.6L1226.1,1703.6L1228.6,1703.5L1231.1,1703.5L1233.6,1703.5L1236.1,1703.5L1238.6,1703.5L1241.1,1703.5L1243.6,1703.4L1246.1,1703.4L1248.6,1703.4L1251.1,1703.4L1253.6,1703.4L1256.1,1703.3L1258.6,1703.3L1261.1,1703.3L1263.6,1703.3L1266.1,1703.3L1268.7,1703.2L1271.2,1703.2L1273.7,1703.2L1276.2,1703.2L1278.7,1703.1L1281.2,1703.1L1283.7,1703.1L1286.2,1703.1L1288.7,1703.0L1291.2,1703.0L1293.7,1703.0L1296.2,1702.9L1298.7,1702.9L1301.2,1702.9L1303.7,1702.9L1306.2,1702.8L1308.7,1702.8L1311.2,1702.8L1313.7,1702.7L1316.2,1702.7L1318.7,1702.7L1321.2,1702.6L1323.7,1702.6L1326.2,1702.6L1328.7,1702.5L1331.2,1702.5L1333.7,1702.5L1336.2,1702.4L1338.7,1702.4L1341.2,1702.4L1343.7,1702.3L1346.2,1702.3L1348.7,1702.3L1351.2,1702.2L1353.7,1702.2L1356.2,1702.2L1358.7,1702.1L1361.2,1702.1L1363.7,1702.1L1366.2,1702.0L1368.7,1702.0L1371.2,1702.0L1373.7,1701.9L1376.2,1701.9L1378.7,1701.9L1381.2,1701.8L1383.7,1701.8L1386.2,1701.8L1388.7,1701.8L1391.2,1701.7L1393.7,1701.7L1396.2,1701.7L1398.7,1701.7L1401.1,1701.6L1403.6,1701.6L1406.1,1701.6L1408.6,1701.6L1411.1,1701.6L1413.6,1701.6L1416.1,1701.5L1418.6,1701.5L1421.1,1701.5L1423.6,1701.5L1426.1,1701.5L1428.6,1701.5L1431.1,1701.5L1433.6,1701.5L1436.0,1701.5L1438.5,1701.5L1441.0,1701.5L1443.5,1701.5L1446.0,1701.5L1448.5,1701.5L1451.0,1701.5L1453.5,1701.5L1456.0,1701.5L1458.4,1701.5L1460.9,1701.4L1463.4,1701.4L1465.9,1701.4L1468.4,1701.4L1470.9,1701.4L1473.4,1701.4L1475.9,1701.3L1478.3,1701.3L1480.8,1701.3L1483.3,1701.2L1485.8,1701.2L1488.3,1701.1L1490.8,1701.0L1493.2,1701.0L1495.7,1700.9L1498.2,1700.8L1500.7,1700.7L1503.2,1700.6L1505.7,1700.5L1508.1,1700.3L1510.6,1700.2L1513.1,1700.0L1515.6,1699.9L1518.1,1699.7L1520.5,1699.5L1523.0,1699.3L1525.5,1699.1L1528.0,1698.8L1530.5,1698.6L1532.9,1698.3L1535.4,1698.0L1537.9,1697.7L1540.4,1697.4L1542.8,1697.1L1545.3,1696.7L1547.8,1696.4L1550.3,1696.0L1552.7,1695.6L1555.2,1695.1L1557.7,1694.7L1560.2,1694.2L1562.6,1693.7L1565.1,1693.2L1567.6,1692.7L1570.0,1692.2L1572.5,1691.6L1575.0,1691.0L1577.5,1690.4L1579.9,1689.7L1582.4,1689.0L1584.8,1688.3L1587.2,1687.6L1589.7,1686.9L1592.1,1686.1L1594.5,1685.2L1596.9,1684.4L1599.2,1683.5L1601.6,1682.6L1603.9,1681.6L1606.2,1680.6L1608.5,1679.6L1610.8,1678.5L1613.0,1677.4L1615.2,1676.2L1617.4,1675.0L1619.5,1673.8L1621.6,1672.5L1623.7,1671.1L1625.8,1669.8L1627.8,1668.3L1629.7,1666.9L1631.7,1665.3L1633.6,1663.8L1635.4,1662.1L1637.2,1660.5L1639.0,1658.8L1640.7,1657.0L1642.5,1655.2L1644.1,1653.4L1645.8,1651.5L1647.4,1649.6L1648.9,1647.7L1650.5,1645.7L1652.0,1643.7L1653.5,1641.7L1654.9,1639.6L1656.4,1637.5L1657.8,1635.4L1659.2,1633.3L1660.5,1631.2L1661.8,1629.0L1663.2,1626.8L1664.4,1624.6L1665.7,1622.4L1667.0,1620.2L1668.2,1618.0L1669.4,1615.8L1670.6,1613.6L1671.8,1611.3L1673.0,1609.1L1674.1,1606.9L1675.3,1604.6L1676.4,1602.4L1677.5,1600.2L1678.6,1597.9L1679.7,1595.7L1680.8,1593.5L1681.9,1591.2L1683.0,1589.0L1684.0,1586.8L1685.0,1584.5L1686.1,1582.3L1687.1,1580.0L1688.1,1577.8L1689.1,1575.5L1690.1,1573.3L1691.1,1571.0L1692.1,1568.8L1693.1,1566.5L1694.0,1564.2L1695.0,1562.0L1695.9,1559.7L1696.9,1557.4L1697.8,1555.1L1698.8,1552.9L1699.7,1550.6L1700.6,1548.3L1701.6,1546.0L1702.5,1543.7L1703.4,1541.3L1704.3,1539.0L1705.2,1536.7L1706.1,1534.4L1707.1,1532.0L1708.0,1529.7L1708.9,1527.4L1709.8,1525.0L1710.7,1522.7L1711.6,1520.4L1712.5,1518.0L1713.4,1515.7L1714.3,1513.3L1715.2,1511.0L1716.1,1508.6L1717.0,1506.3L1717.9,1504.0L1718.9,1501.6L1719.8,1499.3L1720.7,1496.9L1721.6,1494.6L1722.5,1492.2L1723.5,1489.9L1724.4,1487.6L1725.4,1485.3L1726.3,1482.9L1727.3,1480.6L1728.2,1478.3L1729.2,1476.0L1730.2,1473.7L1731.2,1471.4L1732.2,1469.1L1733.2,1466.7L1734.2,1464.4L1735.3,1462.1L1736.4,1459.8L1737.5,1457.5L1738.7,1455.1L1739.8,1452.8L1741.1,1450.4L1742.3,1448.0L1743.6,1445.7L1744.9,1443.3L1746.3,1440.9L1747.7,1438.7L1749.1,1436.4L1750.5,1434.3L1752.0,1432.4L1753.5,1430.5L1755.0,1428.9L1756.5,1427.4L1758.1,1426.2L1759.6,1425.2L1761.2,1424.5L1762.8,1424.1L1764.4,1424.0L1766.0,1424.1L1767.5,1424.5L1769.1,1425.2L1770.7,1426.1L1772.2,1427.2L1773.7,1428.6L1775.2,1430.0L1776.7,1431.7L1778.2,1433.4L1779.6,1435.3L1780.9,1437.3L1782.3,1439.4L1783.5,1441.6L1784.8,1443.8L1786.0,1446.0L1787.1,1448.3L1788.2,1450.7L1789.3,1453.0L1790.3,1455.4L1791.4,1457.9L1792.3,1460.3L1793.3,1462.8L1794.2,1465.3L1795.1,1467.7L1795.9,1470.2L1796.8,1472.7L1797.6,1475.1L1798.4,1477.6L1799.2,1480.0L1800.0,1482.5L1800.7,1484.9L1801.5,1487.3L1802.2,1489.8L1802.9,1492.2L1803.6,1494.6L1804.3,1497.0L1804.9,1499.4L1805.6,1501.8L1806.2,1504.2L1806.9,1506.6L1807.5,1509.0L1808.1,1511.4L1808.7,1513.8L1809.3,1516.2L1809.8,1518.6L1810.4,1521.0L1811.0,1523.4L1811.5,1525.8L1812.1,1528.3L1812.6,1530.7L1813.1,1533.1L1813.7,1535.5L1814.2,1538.0L1814.7,1540.4L1815.2,1542.9L1815.8,1545.3L1816.3,1547.8L1816.8,1550.2L1817.3,1552.7L1817.8,1555.1L1818.3,1557.6L1818.8,1560.0L1819.4,1562.5L1819.9,1565.0L1820.4,1567.4L1820.9,1569.9L1821.5,1572.3L1822.0,1574.8L1822.5,1577.2L1823.1,1579.6L1823.6,1582.1L1824.2,1584.5L1824.8,1586.9L1825.3,1589.3L1825.9,1591.7L1826.5,1594.1L1827.1,1596.4L1827.7,1598.8L1828.4,1601.1L1829.0,1603.5L1829.6,1605.8L1830.3,1608.1L1831.0,1610.5L1831.7,1612.8L1832.4,1615.1L1833.2,1617.5L1834.0,1619.8L1834.8,1622.2L1835.6,1624.5L1836.5,1626.9L1837.4,1629.3L1838.3,1631.8L1839.3,1634.2L1840.3,1636.7L1841.4,1639.2L1842.5,1641.6L1843.6,1644.1L1844.8,1646.5L1846.0,1648.9L1847.3,1651.2L1848.7,1653.5L1850.1,1655.7L1851.5,1657.9L1853.0,1659.9L1854.6,1661.9L1856.2,1663.8L1857.9,1665.6L1859.6,1667.3L1861.4,1669.0L1863.2,1670.5L1865.1,1672.0L1867.1,1673.3L1869.0,1674.6L1871.1,1675.9L1873.1,1677.0L1875.2,1678.2L1877.4,1679.2L1879.5,1680.2L1881.7,1681.1L1884.0,1682.0L1886.2,1682.8L1888.5,1683.6L1890.9,1684.3L1893.2,1685.0L1895.5,1685.6L1897.9,1686.2L1900.3,1686.8L1902.7,1687.3L1905.1,1687.9L1907.5,1688.3L1910.0,1688.8L1912.4,1689.3L1914.8,1689.7L1917.3,1690.1L1919.7,1690.5L1922.2,1690.9L1924.6,1691.3L1927.1,1691.6L1929.5,1692.0L1932.0,1692.3L1934.5,1692.6L1936.9,1692.9L1939.4,1693.2L1941.9,1693.4L1944.4,1693.7L1946.8,1693.9L1949.3,1694.1L1951.8,1694.3L1954.3,1694.5L1956.8,1694.7L1959.3,1694.9L1961.8,1695.1L1964.3,1695.2L1966.8,1695.4L1969.3,1695.5L1971.8,1695.6L1974.3,1695.7L1976.8,1695.8L1979.3,1695.9L1981.8,1696.0L1984.3,1696.1L1986.8,1696.2L1989.3,1696.2L1991.8,1696.3L1994.3,1696.3L1996.9,1696.4L1999.4,1696.4L2001.9,1696.5L2004.4,1696.5L2006.9,1696.5L2009.5,1696.5L2012.0,1696.5L2014.5,1696.5L2017.0,1696.5L2019.5,1696.5L2022.1,1696.5L2024.6,1696.5L2027.1,1696.5L2029.6,1696.5L2032.2,1696.5L2034.7,1696.5L2037.2,1696.5L2039.7,1696.5L2042.2,1696.4L2044.8,1696.4L2047.3,1696.4L2049.8,1696.4L2052.3,1696.4L2054.8,1696.4L2057.3,1696.4L2059.8,1696.3L2062.4,1696.3L2064.9,1696.3L2067.4,1696.3L2069.9,1696.3L2072.4,1696.3L2074.9,1696.3L2077.4,1696.3L2079.9,1696.3L2082.4,1696.3L2084.9,1696.3L2087.4,1696.3L2089.9,1696.3L2092.5,1696.2L2095.0,1696.2L2097.5,1696.2L2100.0,1696.2L2102.5,1696.2L2105.0,1696.2L2107.5,1696.2L2110.0,1696.2L2112.5,1696.2L2115.0,1696.3L2117.5,1696.3L2120.0,1696.3L2122.5,1696.3L2125.0,1696.3L2127.5,1696.3L2130.0,1696.3L2132.4,1696.3L2134.9,1696.3L2137.4,1696.3L2139.9,1696.3L2142.4,1696.3L2144.9,1696.3L2147.4,1696.3L2149.9,1696.3L2152.4,1696.4L2154.9,1696.4L2157.4,1696.4L2159.9,1696.4L2162.4,1696.4L2164.9,1696.4L2167.4,1696.4L2169.9,1696.4L2172.4,1696.4L2174.9,1696.5L2177.4,1696.5L2179.8,1696.5L2182.3,1696.5L2184.8,1696.5L2187.3,1696.5L2189.8,1696.5L2192.3,1696.6L2194.8,1696.6L2197.3,1696.6L2199.8,1696.6L2202.3,1696.6L2204.8,1696.6L2207.3,1696.7L2209.8,1696.7L2212.3,1696.7L2214.8,1696.7L2217.3,1696.7L2219.8,1696.7L2222.3,1696.8L2224.8,1696.8L2227.3,1696.8L2229.8,1696.8L2232.3,1696.8L2234.8,1696.9L2237.3,1696.9L2239.8,1696.9L2242.3,1696.9L2244.8,1696.9L2247.3,1696.9L2249.8,1697.0L2252.3,1697.0L2254.8,1697.0L2257.3,1697.0L2259.8,1697.0L2262.3,1697.1L2264.8,1697.1L2267.3,1697.1L2269.8,1697.1L2272.3,1697.1L2274.8,1697.1L2277.3,1697.2L2279.9,1697.2L2282.4,1697.2L2284.9,1697.2L2287.4,1697.2L2289.9,1697.3L2292.4,1697.3L2294.9,1697.3L2297.4,1697.3L2300.0,1697.3L2302.5,1697.3L2305.0,1697.4L2307.5,1697.4L2310.0,1697.4L2312.6,1697.4L2315.1,1697.4L2317.6,1697.4L2320.1,1697.4L2322.7,1697.5L2325.2,1697.5L2327.7,1697.5L2330.3,1697.5" fill="none" stroke="#000000" stroke-width="15" stroke-linecap="round" stroke-linejoin="round" clip-path="url(#cb)"/>
</svg>
</body></html>
